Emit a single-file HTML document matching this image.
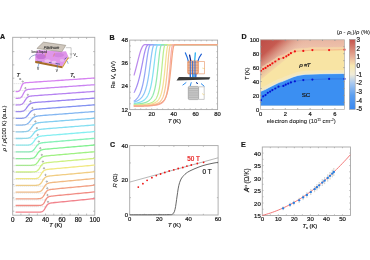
<!DOCTYPE html><html><head><meta charset="utf-8"><style>html,body{margin:0;padding:0;background:#fff;overflow:hidden}svg{display:block;will-change:transform}</style></head><body>
<svg width="370" height="260" viewBox="0 0 370 260" font-family='"Liberation Sans", sans-serif'>
<rect width="370" height="260" fill="#fff"/>
<text x="0" y="39.2" font-size="7.1" text-anchor="start" fill="#1a1a1a" stroke="#1a1a1a" stroke-width="0.22" font-weight="bold">A</text>
<rect x="12.7" y="37.3" width="82.1" height="177.9" fill="none" stroke="#a8a8a8" stroke-width="0.9"/>
<path d="M20.91 215.2v-1.6M20.91 37.3v1.6M29.12 215.2v-1.6M29.12 37.3v1.6M37.33 215.2v-1.6M37.33 37.3v1.6M45.54 215.2v-1.6M45.54 37.3v1.6M53.75 215.2v-1.6M53.75 37.3v1.6M61.96 215.2v-1.6M61.96 37.3v1.6M70.17 215.2v-1.6M70.17 37.3v1.6M78.38 215.2v-1.6M78.38 37.3v1.6M86.59 215.2v-1.6M86.59 37.3v1.6" stroke="#a8a8a8" stroke-width="0.8"/>
<path d="M12.7 51.6h1.6M94.8 51.6h-1.6M12.7 64.9h1.6M94.8 64.9h-1.6M12.7 78.2h1.6M94.8 78.2h-1.6M12.7 91.5h1.6M94.8 91.5h-1.6M12.7 104.8h1.6M94.8 104.8h-1.6M12.7 118.1h1.6M94.8 118.1h-1.6M12.7 131.4h1.6M94.8 131.4h-1.6M12.7 144.7h1.6M94.8 144.7h-1.6M12.7 158h1.6M94.8 158h-1.6M12.7 171.3h1.6M94.8 171.3h-1.6M12.7 184.6h1.6M94.8 184.6h-1.6M12.7 197.9h1.6M94.8 197.9h-1.6M12.7 211.2h1.6M94.8 211.2h-1.6" stroke="#a8a8a8" stroke-width="0.8"/>
<text x="12.7" y="221.6" font-size="6.3" text-anchor="middle" fill="#1a1a1a" stroke="#1a1a1a" stroke-width="0.22" >0</text>
<text x="29.12" y="221.6" font-size="6.3" text-anchor="middle" fill="#1a1a1a" stroke="#1a1a1a" stroke-width="0.22" >20</text>
<text x="45.54" y="221.6" font-size="6.3" text-anchor="middle" fill="#1a1a1a" stroke="#1a1a1a" stroke-width="0.22" >40</text>
<text x="61.96" y="221.6" font-size="6.3" text-anchor="middle" fill="#1a1a1a" stroke="#1a1a1a" stroke-width="0.22" >60</text>
<text x="78.38" y="221.6" font-size="6.3" text-anchor="middle" fill="#1a1a1a" stroke="#1a1a1a" stroke-width="0.22" >80</text>
<text x="94.8" y="221.6" font-size="6.3" text-anchor="middle" fill="#1a1a1a" stroke="#1a1a1a" stroke-width="0.22" >100</text>
<text x="55.8" y="227.4" font-size="5.8" text-anchor="middle" fill="#1a1a1a" stroke="#1a1a1a" stroke-width="0.22" ><tspan font-style="italic">T</tspan> (K)</text>
<text transform="translate(5.9,128.3) rotate(-90)" font-size="5.8" text-anchor="middle" fill="#1a1a1a" stroke="#1a1a1a" stroke-width="0.12"><tspan font-style="italic">ρ</tspan> / <tspan font-style="italic">ρ</tspan>(100 K) (a.u.)</text>
<path d="M13.7 83.6L22.7 83.6" stroke="#c4c4c4" stroke-width="0.6" stroke-dasharray="1 1" fill="none"/>
<path d="M15.6 91.59 L17.6 91.5 L18.1 91.42 L18.6 91.28 L19.1 91.02 L19.6 90.57 L20.1 89.87 L20.6 88.85 L21.1 87.58 L21.6 86.25 L22.1 85.09 L22.6 84.23 L23.1 83.65 L23.6 83.28 L24.1 83.06 L24.6 82.92 L25.1 82.82 L25.6 82.76 L26.1 82.71 L28.1 82.55 L30.1 82.41 L32.1 82.28 L34.1 82.14 L36.1 82 L38.1 81.87 L40.1 81.73 L42.1 81.59 L44.1 81.46 L46.1 81.32 L48.1 81.19 L50.1 81.05 L52.1 80.91 L54.1 80.78 L56.1 80.64 L58.1 80.5 L60.1 80.37 L62.1 80.23 L64.1 80.09 L66.1 79.96 L68.1 79.82 L70.1 79.68 L72.1 79.55 L74.1 79.41 L76.1 79.28 L78.1 79.14 L80.1 79 L82.1 78.87 L84.1 78.73 L86.1 78.59 L88.1 78.46 L90.1 78.32 L92.1 78.18 L94.1 78.05 L94.8 78" stroke="hsl(285,80%,73%)" stroke-width="1.3" fill="none"/>
<circle cx="22.7" cy="81.52" r="0.65" fill="none" stroke="#707070" stroke-width="0.55"/>
<path d="M13.7 90.44L25.4 90.44" stroke="#c4c4c4" stroke-width="0.6" stroke-dasharray="1 1" fill="none"/>
<path d="M15.6 98.29 L17.6 98.26 L18.1 98.24 L18.6 98.2 L19.1 98.14 L19.6 98.04 L20.1 97.89 L20.6 97.66 L21.1 97.32 L21.6 96.83 L22.1 96.15 L22.6 95.3 L23.1 94.31 L23.6 93.28 L24.1 92.32 L24.6 91.5 L25.1 90.87 L25.6 90.39 L26.1 90.06 L26.6 89.82 L27.1 89.66 L27.6 89.54 L28.1 89.45 L28.6 89.38 L29.1 89.33 L29.6 89.28 L31.6 89.12 L33.6 88.98 L35.6 88.84 L37.6 88.7 L39.6 88.56 L41.6 88.42 L43.6 88.28 L45.6 88.14 L47.6 88 L49.6 87.86 L51.6 87.72 L53.6 87.58 L55.6 87.44 L57.6 87.3 L59.6 87.16 L61.6 87.02 L63.6 86.88 L65.6 86.74 L67.6 86.6 L69.6 86.46 L71.6 86.32 L73.6 86.18 L75.6 86.04 L77.6 85.9 L79.6 85.76 L81.6 85.62 L83.6 85.48 L85.6 85.34 L87.6 85.2 L89.6 85.06 L91.6 84.92 L93.6 84.78 L94.8 84.7" stroke="hsl(278,80%,73%)" stroke-width="1.3" fill="none"/>
<circle cx="25.4" cy="88.15" r="0.65" fill="none" stroke="#707070" stroke-width="0.55"/>
<path d="M13.7 97.28L27.8 97.28" stroke="#c4c4c4" stroke-width="0.6" stroke-dasharray="1 1" fill="none"/>
<path d="M15.6 104.99 L17.6 104.96 L18.1 104.94 L18.6 104.92 L19.1 104.88 L19.6 104.83 L20.1 104.75 L20.6 104.65 L21.1 104.5 L21.6 104.29 L22.1 104.01 L22.6 103.64 L23.1 103.16 L23.6 102.57 L24.1 101.87 L24.6 101.1 L25.1 100.3 L25.6 99.52 L26.1 98.8 L26.6 98.18 L27.1 97.66 L27.6 97.25 L28.1 96.92 L28.6 96.67 L29.1 96.48 L29.6 96.34 L30.1 96.22 L30.6 96.13 L31.1 96.05 L31.6 95.99 L32.1 95.93 L32.6 95.88 L33.1 95.84 L35.1 95.68 L37.1 95.53 L39.1 95.39 L41.1 95.24 L43.1 95.1 L45.1 94.96 L47.1 94.81 L49.1 94.67 L51.1 94.53 L53.1 94.39 L55.1 94.24 L57.1 94.1 L59.1 93.96 L61.1 93.81 L63.1 93.67 L65.1 93.53 L67.1 93.38 L69.1 93.24 L71.1 93.1 L73.1 92.95 L75.1 92.81 L77.1 92.67 L79.1 92.52 L81.1 92.38 L83.1 92.24 L85.1 92.09 L87.1 91.95 L89.1 91.81 L91.1 91.66 L93.1 91.52 L94.8 91.4" stroke="hsl(268,80%,73%)" stroke-width="1.3" fill="none"/>
<circle cx="27.8" cy="94.8" r="0.65" fill="none" stroke="#707070" stroke-width="0.55"/>
<path d="M13.7 104.12L30.4 104.12" stroke="#c4c4c4" stroke-width="0.6" stroke-dasharray="1 1" fill="none"/>
<path d="M15.6 111.69 L17.6 111.68 L19.6 111.63 L20.1 111.6 L20.6 111.56 L21.1 111.51 L21.6 111.44 L22.1 111.35 L22.6 111.22 L23.1 111.05 L23.6 110.83 L24.1 110.54 L24.6 110.17 L25.1 109.72 L25.6 109.18 L26.1 108.56 L26.6 107.88 L27.1 107.17 L27.6 106.47 L28.1 105.81 L28.6 105.2 L29.1 104.68 L29.6 104.24 L30.1 103.88 L30.6 103.58 L31.1 103.35 L31.6 103.16 L32.1 103.01 L32.6 102.89 L33.1 102.79 L33.6 102.71 L34.1 102.64 L34.6 102.58 L35.1 102.52 L35.6 102.47 L36.1 102.43 L36.6 102.38 L38.6 102.22 L40.6 102.07 L42.6 101.93 L44.6 101.78 L46.6 101.63 L48.6 101.49 L50.6 101.34 L52.6 101.19 L54.6 101.05 L56.6 100.9 L58.6 100.75 L60.6 100.61 L62.6 100.46 L64.6 100.31 L66.6 100.17 L68.6 100.02 L70.6 99.87 L72.6 99.73 L74.6 99.58 L76.6 99.43 L78.6 99.29 L80.6 99.14 L82.6 98.99 L84.6 98.85 L86.6 98.7 L88.6 98.55 L90.6 98.41 L92.6 98.26 L94.6 98.11 L94.8 98.1" stroke="hsl(252,80%,73%)" stroke-width="1.3" fill="none"/>
<circle cx="30.4" cy="101.42" r="0.65" fill="none" stroke="#707070" stroke-width="0.55"/>
<path d="M13.7 110.96L32.4 110.96" stroke="#c4c4c4" stroke-width="0.6" stroke-dasharray="1 1" fill="none"/>
<path d="M15.6 118.4 L17.6 118.39 L19.6 118.37 L20.1 118.36 L20.6 118.34 L21.1 118.32 L21.6 118.29 L22.1 118.25 L22.6 118.2 L23.1 118.13 L23.6 118.04 L24.1 117.92 L24.6 117.76 L25.1 117.55 L25.6 117.28 L26.1 116.95 L26.6 116.54 L27.1 116.05 L27.6 115.49 L28.1 114.87 L28.6 114.21 L29.1 113.54 L29.6 112.89 L30.1 112.28 L30.6 111.73 L31.1 111.25 L31.6 110.85 L32.1 110.51 L32.6 110.24 L33.1 110.01 L33.6 109.83 L34.1 109.68 L34.6 109.56 L35.1 109.46 L35.6 109.38 L36.1 109.3 L36.6 109.24 L37.1 109.18 L37.6 109.13 L38.1 109.08 L38.6 109.04 L39.1 108.99 L41.1 108.83 L43.1 108.68 L45.1 108.53 L47.1 108.38 L49.1 108.23 L51.1 108.08 L53.1 107.93 L55.1 107.78 L57.1 107.63 L59.1 107.48 L61.1 107.33 L63.1 107.18 L65.1 107.03 L67.1 106.88 L69.1 106.73 L71.1 106.58 L73.1 106.43 L75.1 106.28 L77.1 106.13 L79.1 105.98 L81.1 105.83 L83.1 105.68 L85.1 105.53 L87.1 105.38 L89.1 105.23 L91.1 105.08 L93.1 104.93 L94.8 104.8" stroke="hsl(232,80%,73%)" stroke-width="1.3" fill="none"/>
<circle cx="32.4" cy="108.08" r="0.65" fill="none" stroke="#707070" stroke-width="0.55"/>
<path d="M13.7 117.79L34.5 117.79" stroke="#c4c4c4" stroke-width="0.6" stroke-dasharray="1 1" fill="none"/>
<path d="M15.6 125.1 L17.6 125.09 L19.6 125.08 L21.6 125.04 L22.1 125.03 L22.6 125 L23.1 124.97 L23.6 124.93 L24.1 124.87 L24.6 124.8 L25.1 124.71 L25.6 124.58 L26.1 124.43 L26.6 124.23 L27.1 123.98 L27.6 123.67 L28.1 123.3 L28.6 122.86 L29.1 122.36 L29.6 121.8 L30.1 121.2 L30.6 120.58 L31.1 119.96 L31.6 119.36 L32.1 118.81 L32.6 118.31 L33.1 117.87 L33.6 117.5 L34.1 117.18 L34.6 116.92 L35.1 116.7 L35.6 116.52 L36.1 116.37 L36.6 116.25 L37.1 116.14 L37.6 116.05 L38.1 115.97 L38.6 115.91 L39.1 115.84 L39.6 115.79 L40.1 115.74 L40.6 115.69 L41.1 115.64 L41.6 115.6 L43.6 115.43 L45.6 115.27 L47.6 115.12 L49.6 114.97 L51.6 114.81 L53.6 114.66 L55.6 114.51 L57.6 114.35 L59.6 114.2 L61.6 114.05 L63.6 113.89 L65.6 113.74 L67.6 113.59 L69.6 113.43 L71.6 113.28 L73.6 113.13 L75.6 112.97 L77.6 112.82 L79.6 112.67 L81.6 112.51 L83.6 112.36 L85.6 112.21 L87.6 112.05 L89.6 111.9 L91.6 111.75 L93.6 111.59 L94.8 111.5" stroke="hsl(212,80%,73%)" stroke-width="1.3" fill="none"/>
<circle cx="34.5" cy="114.72" r="0.65" fill="none" stroke="#707070" stroke-width="0.55"/>
<path d="M13.7 124.63L35.4 124.63" stroke="#c4c4c4" stroke-width="0.6" stroke-dasharray="1 1" fill="none"/>
<path d="M15.6 131.8 L17.6 131.8 L19.6 131.79 L21.6 131.78 L22.1 131.77 L22.6 131.76 L23.1 131.75 L23.6 131.73 L24.1 131.71 L24.6 131.67 L25.1 131.63 L25.6 131.57 L26.1 131.49 L26.6 131.39 L27.1 131.26 L27.6 131.08 L28.1 130.86 L28.6 130.58 L29.1 130.23 L29.6 129.81 L30.1 129.31 L30.6 128.75 L31.1 128.13 L31.6 127.48 L32.1 126.82 L32.6 126.18 L33.1 125.59 L33.6 125.06 L34.1 124.6 L34.6 124.21 L35.1 123.88 L35.6 123.61 L36.1 123.39 L36.6 123.21 L37.1 123.06 L37.6 122.94 L38.1 122.84 L38.6 122.75 L39.1 122.67 L39.6 122.61 L40.1 122.55 L40.6 122.49 L41.1 122.44 L41.6 122.39 L42.1 122.35 L44.1 122.18 L46.1 122.02 L48.1 121.86 L50.1 121.7 L52.1 121.55 L54.1 121.39 L56.1 121.23 L58.1 121.08 L60.1 120.92 L62.1 120.76 L64.1 120.61 L66.1 120.45 L68.1 120.29 L70.1 120.14 L72.1 119.98 L74.1 119.82 L76.1 119.67 L78.1 119.51 L80.1 119.35 L82.1 119.2 L84.1 119.04 L86.1 118.88 L88.1 118.73 L90.1 118.57 L92.1 118.41 L94.1 118.25 L94.8 118.2" stroke="hsl(200,80%,73%)" stroke-width="1.3" fill="none"/>
<circle cx="35.4" cy="121.45" r="0.65" fill="none" stroke="#707070" stroke-width="0.55"/>
<path d="M13.7 131.47L36.9 131.47" stroke="#c4c4c4" stroke-width="0.6" stroke-dasharray="1 1" fill="none"/>
<path d="M15.6 138.5 L17.6 138.5 L19.6 138.5 L21.6 138.49 L23.6 138.47 L24.1 138.46 L24.6 138.45 L25.1 138.43 L25.6 138.41 L26.1 138.37 L26.6 138.33 L27.1 138.27 L27.6 138.19 L28.1 138.09 L28.6 137.96 L29.1 137.78 L29.6 137.56 L30.1 137.28 L30.6 136.93 L31.1 136.5 L31.6 136.01 L32.1 135.44 L32.6 134.82 L33.1 134.17 L33.6 133.51 L34.1 132.87 L34.6 132.28 L35.1 131.75 L35.6 131.29 L36.1 130.89 L36.6 130.56 L37.1 130.29 L37.6 130.07 L38.1 129.89 L38.6 129.74 L39.1 129.62 L39.6 129.51 L40.1 129.42 L40.6 129.35 L41.1 129.28 L41.6 129.22 L42.1 129.16 L42.6 129.11 L43.1 129.06 L43.6 129.02 L45.6 128.84 L47.6 128.68 L49.6 128.52 L51.6 128.36 L53.6 128.2 L55.6 128.04 L57.6 127.88 L59.6 127.72 L61.6 127.56 L63.6 127.4 L65.6 127.24 L67.6 127.08 L69.6 126.92 L71.6 126.76 L73.6 126.6 L75.6 126.44 L77.6 126.28 L79.6 126.12 L81.6 125.96 L83.6 125.8 L85.6 125.64 L87.6 125.48 L89.6 125.32 L91.6 125.16 L93.6 125 L94.8 124.9" stroke="hsl(190,80%,73%)" stroke-width="1.3" fill="none"/>
<circle cx="36.9" cy="128.13" r="0.65" fill="none" stroke="#707070" stroke-width="0.55"/>
<path d="M13.7 138.31L37.7 138.31" stroke="#c4c4c4" stroke-width="0.6" stroke-dasharray="1 1" fill="none"/>
<path d="M15.6 145.2 L17.6 145.2 L19.6 145.2 L21.6 145.2 L23.6 145.19 L25.6 145.17 L26.1 145.16 L26.6 145.14 L27.1 145.12 L27.6 145.09 L28.1 145.05 L28.6 144.99 L29.1 144.91 L29.6 144.8 L30.1 144.66 L30.6 144.47 L31.1 144.22 L31.6 143.9 L32.1 143.5 L32.6 143.01 L33.1 142.43 L33.6 141.79 L34.1 141.09 L34.6 140.37 L35.1 139.68 L35.6 139.03 L36.1 138.46 L36.6 137.96 L37.1 137.54 L37.6 137.21 L38.1 136.93 L38.6 136.71 L39.1 136.54 L39.6 136.4 L40.1 136.28 L40.6 136.18 L41.1 136.1 L41.6 136.03 L42.1 135.97 L42.6 135.91 L43.1 135.86 L43.6 135.81 L45.6 135.63 L47.6 135.46 L49.6 135.3 L51.6 135.13 L53.6 134.97 L55.6 134.8 L57.6 134.64 L59.6 134.48 L61.6 134.31 L63.6 134.15 L65.6 133.99 L67.6 133.82 L69.6 133.66 L71.6 133.5 L73.6 133.33 L75.6 133.17 L77.6 133.01 L79.6 132.84 L81.6 132.68 L83.6 132.52 L85.6 132.35 L87.6 132.19 L89.6 132.03 L91.6 131.86 L93.6 131.7 L94.8 131.6" stroke="hsl(182,80%,73%)" stroke-width="1.3" fill="none"/>
<circle cx="37.7" cy="134.87" r="0.65" fill="none" stroke="#707070" stroke-width="0.55"/>
<path d="M13.7 145.15L38.8 145.15" stroke="#c4c4c4" stroke-width="0.6" stroke-dasharray="1 1" fill="none"/>
<path d="M15.6 151.9 L17.6 151.9 L19.6 151.9 L21.6 151.9 L23.6 151.9 L25.6 151.89 L27.6 151.86 L28.1 151.85 L28.6 151.83 L29.1 151.8 L29.6 151.76 L30.1 151.7 L30.6 151.62 L31.1 151.51 L31.6 151.36 L32.1 151.16 L32.6 150.89 L33.1 150.54 L33.6 150.1 L34.1 149.57 L34.6 148.94 L35.1 148.24 L35.6 147.5 L36.1 146.75 L36.6 146.04 L37.1 145.4 L37.6 144.84 L38.1 144.38 L38.6 144 L39.1 143.69 L39.6 143.45 L40.1 143.26 L40.6 143.11 L41.1 142.99 L41.6 142.89 L42.1 142.81 L42.6 142.73 L43.1 142.67 L43.6 142.61 L44.1 142.56 L44.6 142.51 L46.6 142.33 L48.6 142.16 L50.6 141.99 L52.6 141.82 L54.6 141.65 L56.6 141.49 L58.6 141.32 L60.6 141.15 L62.6 140.99 L64.6 140.82 L66.6 140.65 L68.6 140.49 L70.6 140.32 L72.6 140.15 L74.6 139.99 L76.6 139.82 L78.6 139.65 L80.6 139.48 L82.6 139.32 L84.6 139.15 L86.6 138.98 L88.6 138.82 L90.6 138.65 L92.6 138.48 L94.6 138.32 L94.8 138.3" stroke="hsl(148,80%,73%)" stroke-width="1.3" fill="none"/>
<circle cx="38.8" cy="141.57" r="0.65" fill="none" stroke="#707070" stroke-width="0.55"/>
<path d="M13.7 151.99L40.3 151.99" stroke="#c4c4c4" stroke-width="0.6" stroke-dasharray="1 1" fill="none"/>
<path d="M15.6 158.6 L17.6 158.6 L19.6 158.6 L21.6 158.6 L23.6 158.6 L25.6 158.6 L27.6 158.59 L29.6 158.55 L30.1 158.53 L30.6 158.5 L31.1 158.46 L31.6 158.4 L32.1 158.32 L32.6 158.21 L33.1 158.06 L33.6 157.86 L34.1 157.59 L34.6 157.24 L35.1 156.8 L35.6 156.26 L36.1 155.63 L36.6 154.93 L37.1 154.18 L37.6 153.43 L38.1 152.72 L38.6 152.07 L39.1 151.52 L39.6 151.05 L40.1 150.67 L40.6 150.36 L41.1 150.12 L41.6 149.93 L42.1 149.78 L42.6 149.65 L43.1 149.55 L43.6 149.47 L44.1 149.39 L44.6 149.33 L45.1 149.27 L45.6 149.22 L46.1 149.17 L48.1 148.98 L50.1 148.81 L52.1 148.64 L54.1 148.46 L56.1 148.29 L58.1 148.12 L60.1 147.95 L62.1 147.78 L64.1 147.61 L66.1 147.44 L68.1 147.27 L70.1 147.1 L72.1 146.93 L74.1 146.76 L76.1 146.59 L78.1 146.42 L80.1 146.25 L82.1 146.08 L84.1 145.91 L86.1 145.74 L88.1 145.57 L90.1 145.4 L92.1 145.23 L94.1 145.06 L94.8 145" stroke="hsl(128,80%,73%)" stroke-width="1.3" fill="none"/>
<circle cx="40.3" cy="148.24" r="0.65" fill="none" stroke="#707070" stroke-width="0.55"/>
<path d="M13.7 158.83L41.8 158.83" stroke="#c4c4c4" stroke-width="0.6" stroke-dasharray="1 1" fill="none"/>
<path d="M15.6 165.3 L17.6 165.3 L19.6 165.3 L21.6 165.3 L23.6 165.3 L25.6 165.3 L27.6 165.3 L29.6 165.28 L31.6 165.23 L32.1 165.2 L32.6 165.16 L33.1 165.1 L33.6 165.02 L34.1 164.91 L34.6 164.76 L35.1 164.55 L35.6 164.28 L36.1 163.94 L36.6 163.49 L37.1 162.95 L37.6 162.32 L38.1 161.62 L38.6 160.87 L39.1 160.11 L39.6 159.4 L40.1 158.75 L40.6 158.19 L41.1 157.72 L41.6 157.33 L42.1 157.03 L42.6 156.78 L43.1 156.59 L43.6 156.44 L44.1 156.31 L44.6 156.21 L45.1 156.12 L45.6 156.05 L46.1 155.98 L46.6 155.93 L47.1 155.87 L47.6 155.82 L49.6 155.63 L51.6 155.45 L53.6 155.28 L55.6 155.1 L57.6 154.93 L59.6 154.76 L61.6 154.58 L63.6 154.41 L65.6 154.24 L67.6 154.06 L69.6 153.89 L71.6 153.71 L73.6 153.54 L75.6 153.37 L77.6 153.19 L79.6 153.02 L81.6 152.85 L83.6 152.67 L85.6 152.5 L87.6 152.33 L89.6 152.15 L91.6 151.98 L93.6 151.8 L94.8 151.7" stroke="hsl(105,80%,73%)" stroke-width="1.3" fill="none"/>
<circle cx="41.8" cy="154.9" r="0.65" fill="none" stroke="#707070" stroke-width="0.55"/>
<path d="M13.7 165.67L42.9 165.67" stroke="#c4c4c4" stroke-width="0.6" stroke-dasharray="1 1" fill="none"/>
<path d="M15.6 172 L17.6 172 L19.6 172 L21.6 172 L23.6 172 L25.6 172 L27.6 172 L29.6 171.99 L31.6 171.98 L32.1 171.97 L32.6 171.95 L33.1 171.93 L33.6 171.91 L34.1 171.87 L34.6 171.81 L35.1 171.73 L35.6 171.61 L36.1 171.46 L36.6 171.24 L37.1 170.95 L37.6 170.57 L38.1 170.08 L38.6 169.49 L39.1 168.8 L39.6 168.03 L40.1 167.23 L40.6 166.45 L41.1 165.73 L41.6 165.09 L42.1 164.56 L42.6 164.13 L43.1 163.79 L43.6 163.52 L44.1 163.31 L44.6 163.14 L45.1 163.01 L45.6 162.91 L46.1 162.82 L46.6 162.74 L47.1 162.68 L47.6 162.62 L48.1 162.56 L48.6 162.51 L50.6 162.32 L52.6 162.14 L54.6 161.96 L56.6 161.78 L58.6 161.6 L60.6 161.43 L62.6 161.25 L64.6 161.07 L66.6 160.9 L68.6 160.72 L70.6 160.54 L72.6 160.36 L74.6 160.19 L76.6 160.01 L78.6 159.83 L80.6 159.66 L82.6 159.48 L84.6 159.3 L86.6 159.13 L88.6 158.95 L90.6 158.77 L92.6 158.59 L94.6 158.42 L94.8 158.4" stroke="hsl(80,80%,73%)" stroke-width="1.3" fill="none"/>
<circle cx="42.9" cy="161.59" r="0.65" fill="none" stroke="#707070" stroke-width="0.55"/>
<path d="M13.7 172.51L44 172.51" stroke="#c4c4c4" stroke-width="0.6" stroke-dasharray="1 1" fill="none"/>
<path d="M15.6 178.7 L17.6 178.7 L19.6 178.7 L21.6 178.7 L23.6 178.7 L25.6 178.7 L27.6 178.7 L29.6 178.7 L31.6 178.69 L33.6 178.67 L34.1 178.66 L34.6 178.64 L35.1 178.61 L35.6 178.56 L36.1 178.5 L36.6 178.42 L37.1 178.29 L37.6 178.12 L38.1 177.88 L38.6 177.55 L39.1 177.12 L39.6 176.57 L40.1 175.91 L40.6 175.14 L41.1 174.32 L41.6 173.49 L42.1 172.71 L42.6 172.01 L43.1 171.41 L43.6 170.93 L44.1 170.55 L44.6 170.26 L45.1 170.03 L45.6 169.85 L46.1 169.71 L46.6 169.6 L47.1 169.51 L47.6 169.43 L48.1 169.36 L48.6 169.3 L49.1 169.25 L49.6 169.19 L51.6 169 L53.6 168.82 L55.6 168.64 L57.6 168.46 L59.6 168.28 L61.6 168.09 L63.6 167.91 L65.6 167.73 L67.6 167.55 L69.6 167.37 L71.6 167.19 L73.6 167.01 L75.6 166.83 L77.6 166.65 L79.6 166.47 L81.6 166.29 L83.6 166.11 L85.6 165.93 L87.6 165.75 L89.6 165.57 L91.6 165.39 L93.6 165.21 L94.8 165.1" stroke="hsl(55,80%,73%)" stroke-width="1.3" fill="none"/>
<circle cx="44" cy="168.28" r="0.65" fill="none" stroke="#707070" stroke-width="0.55"/>
<path d="M13.7 179.34L45.5 179.34" stroke="#c4c4c4" stroke-width="0.6" stroke-dasharray="1 1" fill="none"/>
<path d="M15.6 185.4 L17.6 185.4 L19.6 185.4 L21.6 185.4 L23.6 185.4 L25.6 185.4 L27.6 185.4 L29.6 185.4 L31.6 185.4 L33.6 185.39 L35.6 185.34 L36.1 185.31 L36.6 185.27 L37.1 185.22 L37.6 185.14 L38.1 185.04 L38.6 184.89 L39.1 184.69 L39.6 184.41 L40.1 184.05 L40.6 183.58 L41.1 183 L41.6 182.32 L42.1 181.56 L42.6 180.76 L43.1 179.97 L43.6 179.23 L44.1 178.57 L44.6 178.01 L45.1 177.56 L45.6 177.19 L46.1 176.91 L46.6 176.68 L47.1 176.51 L47.6 176.37 L48.1 176.25 L48.6 176.16 L49.1 176.08 L49.6 176.01 L50.1 175.95 L50.6 175.89 L51.1 175.84 L53.1 175.64 L55.1 175.45 L57.1 175.26 L59.1 175.08 L61.1 174.9 L63.1 174.71 L65.1 174.53 L67.1 174.35 L69.1 174.16 L71.1 173.98 L73.1 173.79 L75.1 173.61 L77.1 173.43 L79.1 173.24 L81.1 173.06 L83.1 172.88 L85.1 172.69 L87.1 172.51 L89.1 172.32 L91.1 172.14 L93.1 171.96 L94.8 171.8" stroke="hsl(40,80%,73%)" stroke-width="1.3" fill="none"/>
<circle cx="45.5" cy="174.93" r="0.65" fill="none" stroke="#707070" stroke-width="0.55"/>
<path d="M13.7 186.18L46.8 186.18" stroke="#c4c4c4" stroke-width="0.6" stroke-dasharray="1 1" fill="none"/>
<path d="M15.6 192.1 L17.6 192.1 L19.6 192.1 L21.6 192.1 L23.6 192.1 L25.6 192.1 L27.6 192.1 L29.6 192.1 L31.6 192.1 L33.6 192.09 L35.6 192.07 L36.1 192.06 L36.6 192.04 L37.1 192.02 L37.6 191.99 L38.1 191.94 L38.6 191.87 L39.1 191.78 L39.6 191.65 L40.1 191.47 L40.6 191.23 L41.1 190.91 L41.6 190.5 L42.1 189.97 L42.6 189.35 L43.1 188.63 L43.6 187.85 L44.1 187.05 L44.6 186.29 L45.1 185.59 L45.6 184.98 L46.1 184.47 L46.6 184.06 L47.1 183.73 L47.6 183.47 L48.1 183.27 L48.6 183.11 L49.1 182.98 L49.6 182.88 L50.1 182.79 L50.6 182.71 L51.1 182.64 L51.6 182.58 L52.1 182.52 L52.6 182.47 L54.6 182.27 L56.6 182.08 L58.6 181.89 L60.6 181.7 L62.6 181.51 L64.6 181.33 L66.6 181.14 L68.6 180.95 L70.6 180.76 L72.6 180.58 L74.6 180.39 L76.6 180.2 L78.6 180.02 L80.6 179.83 L82.6 179.64 L84.6 179.45 L86.6 179.27 L88.6 179.08 L90.6 178.89 L92.6 178.71 L94.6 178.52 L94.8 178.5" stroke="hsl(30,80%,73%)" stroke-width="1.3" fill="none"/>
<circle cx="46.8" cy="181.59" r="0.65" fill="none" stroke="#707070" stroke-width="0.55"/>
<path d="M13.7 193.02L47.3 193.02" stroke="#c4c4c4" stroke-width="0.6" stroke-dasharray="1 1" fill="none"/>
<path d="M15.6 198.8 L17.6 198.8 L19.6 198.8 L21.6 198.8 L23.6 198.8 L25.6 198.8 L27.6 198.8 L29.6 198.8 L31.6 198.8 L33.6 198.8 L35.6 198.79 L37.6 198.76 L38.1 198.74 L38.6 198.71 L39.1 198.67 L39.6 198.61 L40.1 198.52 L40.6 198.39 L41.1 198.21 L41.6 197.96 L42.1 197.62 L42.6 197.16 L43.1 196.59 L43.6 195.88 L44.1 195.08 L44.6 194.22 L45.1 193.37 L45.6 192.57 L46.1 191.88 L46.6 191.3 L47.1 190.84 L47.6 190.47 L48.1 190.2 L48.6 189.99 L49.1 189.82 L49.6 189.69 L50.1 189.59 L50.6 189.5 L51.1 189.42 L51.6 189.36 L52.1 189.3 L52.6 189.24 L54.6 189.03 L56.6 188.84 L58.6 188.65 L60.6 188.46 L62.6 188.27 L64.6 188.08 L66.6 187.89 L68.6 187.7 L70.6 187.51 L72.6 187.32 L74.6 187.12 L76.6 186.93 L78.6 186.74 L80.6 186.55 L82.6 186.36 L84.6 186.17 L86.6 185.98 L88.6 185.79 L90.6 185.6 L92.6 185.41 L94.6 185.22 L94.8 185.2" stroke="hsl(15,80%,73%)" stroke-width="1.3" fill="none"/>
<circle cx="47.3" cy="188.33" r="0.65" fill="none" stroke="#707070" stroke-width="0.55"/>
<path d="M13.7 199.86L47.5 199.86" stroke="#c4c4c4" stroke-width="0.6" stroke-dasharray="1 1" fill="none"/>
<path d="M15.6 205.5 L17.6 205.5 L19.6 205.5 L21.6 205.5 L23.6 205.5 L25.6 205.5 L27.6 205.5 L29.6 205.5 L31.6 205.5 L33.6 205.5 L35.6 205.5 L37.6 205.49 L39.6 205.42 L40.1 205.38 L40.6 205.32 L41.1 205.22 L41.6 205.08 L42.1 204.86 L42.6 204.56 L43.1 204.13 L43.6 203.56 L44.1 202.83 L44.6 201.96 L45.1 201.02 L45.6 200.07 L46.1 199.2 L46.6 198.45 L47.1 197.86 L47.6 197.4 L48.1 197.06 L48.6 196.8 L49.1 196.61 L49.6 196.47 L50.1 196.36 L50.6 196.27 L51.1 196.19 L51.6 196.12 L52.1 196.06 L54.1 195.85 L56.1 195.65 L58.1 195.46 L60.1 195.26 L62.1 195.07 L64.1 194.88 L66.1 194.68 L68.1 194.49 L70.1 194.3 L72.1 194.1 L74.1 193.91 L76.1 193.71 L78.1 193.52 L80.1 193.33 L82.1 193.13 L84.1 192.94 L86.1 192.74 L88.1 192.55 L90.1 192.36 L92.1 192.16 L94.1 191.97 L94.8 191.9" stroke="hsl(5,80%,73%)" stroke-width="1.3" fill="none"/>
<circle cx="47.5" cy="195.09" r="0.65" fill="none" stroke="#707070" stroke-width="0.55"/>
<path d="M13.7 206.7L48 206.7" stroke="#c4c4c4" stroke-width="0.6" stroke-dasharray="1 1" fill="none"/>
<path d="M15.6 212.2 L17.6 212.2 L19.6 212.2 L21.6 212.2 L23.6 212.2 L25.6 212.2 L27.6 212.2 L29.6 212.2 L31.6 212.2 L33.6 212.2 L35.6 212.2 L37.6 212.18 L39.6 212.11 L40.1 212.07 L40.6 212 L41.1 211.91 L41.6 211.77 L42.1 211.58 L42.6 211.3 L43.1 210.92 L43.6 210.43 L44.1 209.79 L44.6 209.04 L45.1 208.19 L45.6 207.31 L46.1 206.46 L46.6 205.69 L47.1 205.04 L47.6 204.51 L48.1 204.1 L48.6 203.78 L49.1 203.54 L49.6 203.36 L50.1 203.21 L50.6 203.1 L51.1 203.01 L51.6 202.93 L52.1 202.86 L52.6 202.79 L53.1 202.73 L55.1 202.52 L57.1 202.32 L59.1 202.12 L61.1 201.92 L63.1 201.73 L65.1 201.53 L67.1 201.33 L69.1 201.14 L71.1 200.94 L73.1 200.74 L75.1 200.54 L77.1 200.35 L79.1 200.15 L81.1 199.95 L83.1 199.75 L85.1 199.56 L87.1 199.36 L89.1 199.16 L91.1 198.97 L93.1 198.77 L94.8 198.6" stroke="hsl(355,80%,73%)" stroke-width="1.3" fill="none"/>
<circle cx="48" cy="201.82" r="0.65" fill="none" stroke="#707070" stroke-width="0.55"/>
<text x="16.5" y="77.2" font-size="5.6" text-anchor="start" fill="#1a1a1a" stroke="#1a1a1a" stroke-width="0.22" ><tspan font-style="italic">T</tspan></text>
<text x="19.6" y="79.6" font-size="3.4" text-anchor="start" fill="#1a1a1a" stroke="#1a1a1a" stroke-width="0.08" >c</text>
<text x="70.2" y="76.8" font-size="5.4" text-anchor="start" fill="#1a1a1a" stroke="#1a1a1a" stroke-width="0.22" ><tspan font-style="italic">T</tspan></text>
<text x="73.2" y="78.4" font-size="3.4" text-anchor="start" fill="#1a1a1a" stroke="#1a1a1a" stroke-width="0.08" >s</text>
<path d="M35.2 55 L37.5 50 L62 51.6 L66 51.2 L68.3 56.6 L62.4 66.3 L35.2 60.8 Z" fill="#e096ea"/>
<ellipse cx="41" cy="56.5" rx="4.8" ry="2.6" fill="#bd68d0" opacity="0.75"/>
<ellipse cx="58.5" cy="55" rx="5.5" ry="2.2" fill="#c87ad8" opacity="0.6"/>
<ellipse cx="47.5" cy="60.8" rx="3" ry="1.5" fill="#f4d8f4" opacity="0.6"/>
<ellipse cx="54" cy="62" rx="2.5" ry="1.3" fill="#f0e0f6" opacity="0.6"/>
<ellipse cx="62" cy="60.5" rx="2.2" ry="1.4" fill="#eccaf2" opacity="0.6"/>
<path d="M37 61.3 L42 62 M55.5 63.3 L60 64.2 M64.5 59.2 L66.5 57.6 M49 62.4 L51.5 62.9" stroke="#56679a" stroke-width="0.9"/>
<path d="M35.2 60.8 L62.4 66.3 L62.4 68.2 L35.2 62.9 Z" fill="#a66c28"/>
<path d="M62.4 66.3 L68.3 56.6 L68.6 58.3 L62.4 68.2 Z" fill="#cf9c3c"/>
<path d="M43.4 42.1 L65.8 45.3 L61.8 51.8 L36.9 48.5 Z" fill="#cfc7bd" stroke="#857c70" stroke-width="0.5"/>
<text transform="translate(51.3,48.7) skewX(-10)" font-size="4.0" text-anchor="middle" fill="#222" stroke="#222" stroke-width="0.1">Platinum</text>
<path d="M46.5 52.2 L45 56.2 M54.8 53.2 L53.2 56.8" stroke="#e0904c" stroke-width="0.5"/>
<text x="31.4" y="52.6" font-size="3.3" text-anchor="start" fill="#2f2f2f" stroke="#2f2f2f" stroke-width="0.08" >Ionic liquid</text>
<path d="M29.3 59.5 Q30.5 55.2 37.3 54.6" stroke="#4a6aa0" stroke-width="0.55" fill="none"/>
<path d="M39 63.2 L37.8 67.4 M57.3 64.6 L57.3 68.4 M67.2 61 L68.2 63.8" stroke="#4a7ac0" stroke-width="0.6" fill="none"/>
<text x="37" y="70" font-size="3.2" text-anchor="start" fill="#2a2a2a" stroke="#2a2a2a" stroke-width="0.08" >V</text>
<text x="55.8" y="72" font-size="3.2" text-anchor="start" fill="#2a2a2a" stroke="#2a2a2a" stroke-width="0.08" >V</text>
<path d="M65.8 47.7 H71.1 V58 H68.2 M69.6 53.8 H72.6 M70.2 54.8 H72" stroke="#8a8a8a" stroke-width="0.45" fill="none"/>
<text x="73.6" y="56.4" font-size="3.6" text-anchor="start" fill="#2a2a2a" stroke="#2a2a2a" stroke-width="0.08" >V</text>
<text x="76" y="57.4" font-size="2.2" text-anchor="start" fill="#2a2a2a" stroke="#2a2a2a" stroke-width="0.08" >G</text>
<text x="109.5" y="39.6" font-size="7.1" text-anchor="start" fill="#1a1a1a" stroke="#1a1a1a" stroke-width="0.22" font-weight="bold">B</text>
<rect x="129.7" y="40.1" width="87.9" height="69.5" fill="none" stroke="#a8a8a8" stroke-width="0.9"/>
<path d="M135.19 109.6v-1.2M135.19 40.1v1.2M140.69 109.6v-1.2M140.69 40.1v1.2M146.18 109.6v-1.2M146.18 40.1v1.2M151.67 109.6v-1.2M151.67 40.1v1.2M157.17 109.6v-1.2M157.17 40.1v1.2M162.66 109.6v-1.2M162.66 40.1v1.2M168.16 109.6v-1.2M168.16 40.1v1.2M173.65 109.6v-1.2M173.65 40.1v1.2M179.14 109.6v-1.2M179.14 40.1v1.2M184.64 109.6v-1.2M184.64 40.1v1.2M190.13 109.6v-1.2M190.13 40.1v1.2M195.62 109.6v-1.2M195.62 40.1v1.2M201.12 109.6v-1.2M201.12 40.1v1.2M206.61 109.6v-1.2M206.61 40.1v1.2M212.11 109.6v-1.2M212.11 40.1v1.2" stroke="#a8a8a8" stroke-width="0.8"/>
<path d="M129.7 103.81h1.2M217.6 103.81h-1.2M129.7 98.02h1.2M217.6 98.02h-1.2M129.7 92.22h1.2M217.6 92.22h-1.2M129.7 86.43h1.2M217.6 86.43h-1.2M129.7 80.64h1.2M217.6 80.64h-1.2M129.7 74.85h1.2M217.6 74.85h-1.2M129.7 69.06h1.2M217.6 69.06h-1.2M129.7 63.27h1.2M217.6 63.27h-1.2M129.7 57.47h1.2M217.6 57.47h-1.2M129.7 51.68h1.2M217.6 51.68h-1.2M129.7 45.89h1.2M217.6 45.89h-1.2" stroke="#a8a8a8" stroke-width="0.8"/>
<text x="129.7" y="115.6" font-size="5.8" text-anchor="middle" fill="#1a1a1a" stroke="#1a1a1a" stroke-width="0.22" >0</text>
<text x="151.67" y="115.6" font-size="5.8" text-anchor="middle" fill="#1a1a1a" stroke="#1a1a1a" stroke-width="0.22" >20</text>
<text x="173.65" y="115.6" font-size="5.8" text-anchor="middle" fill="#1a1a1a" stroke="#1a1a1a" stroke-width="0.22" >40</text>
<text x="195.62" y="115.6" font-size="5.8" text-anchor="middle" fill="#1a1a1a" stroke="#1a1a1a" stroke-width="0.22" >60</text>
<text x="217.6" y="115.6" font-size="5.8" text-anchor="middle" fill="#1a1a1a" stroke="#1a1a1a" stroke-width="0.22" >80</text>
<text x="128" y="111.6" font-size="5.8" text-anchor="end" fill="#1a1a1a" stroke="#1a1a1a" stroke-width="0.22" >12</text>
<text x="128" y="88.43" font-size="5.8" text-anchor="end" fill="#1a1a1a" stroke="#1a1a1a" stroke-width="0.22" >24</text>
<text x="128" y="65.27" font-size="5.8" text-anchor="end" fill="#1a1a1a" stroke="#1a1a1a" stroke-width="0.22" >36</text>
<text x="128" y="42.1" font-size="5.8" text-anchor="end" fill="#1a1a1a" stroke="#1a1a1a" stroke-width="0.22" >48</text>
<text x="174.4" y="123.2" font-size="5.8" text-anchor="middle" fill="#1a1a1a" stroke="#1a1a1a" stroke-width="0.22" ><tspan font-style="italic">T</tspan> (K)</text>
<text transform="translate(115.3,74.8) rotate(-90)" font-size="5.8" text-anchor="middle" fill="#1a1a1a" stroke="#1a1a1a" stroke-width="0.12">Re <tspan font-style="italic">V</tspan><tspan font-size="4" dy="1">s</tspan><tspan dy="-1"> (μV)</tspan></text>
<path d="M133.77 75.38 L133.99 74.95 L134.2 74.42 L134.42 73.81 L134.64 73.12 L134.86 72.38 L135.08 71.61 L135.3 70.81 L135.52 69.99 L135.74 69.16 L135.96 68.32 L136.18 67.48 L136.4 66.62 L136.62 65.76 L136.84 64.89 L137.06 64.02 L137.28 63.15 L137.5 62.28 L137.72 61.4 L137.94 60.54 L138.16 59.67 L138.38 58.81 L138.6 57.96 L138.82 57.12 L139.04 56.3 L139.26 55.49 L139.48 54.69 L139.7 53.92 L139.92 53.17 L140.14 52.44 L140.36 51.73 L140.58 51.06 L140.8 50.41 L141.02 49.79 L141.24 49.2 L141.46 48.65 L141.68 48.14 L141.9 47.66 L142.12 47.21 L142.34 46.8 L142.56 46.43 L142.78 46.1 L142.99 45.81 L143.21 45.55 L143.43 45.32 L143.65 45.14 L143.87 44.98 L144.09 44.85 L144.31 44.76 L144.53 44.68 L144.75 44.63 L144.97 44.59 L145.19 44.57 L145.41 44.56 L145.63 44.55 L145.85 44.54 L146.07 44.54 L146.29 44.54 L146.51 44.54 L146.73 44.54 L146.95 44.54 L147.17 44.54 L147.39 44.54 L147.61 44.54 L147.83 44.54 L217.6 44.54" stroke="#bc8aec" stroke-width="1.25" fill="none"/>
<path d="M133.77 92.63 L133.99 92.39 L134.2 92.1 L134.42 91.76 L134.64 91.37 L134.86 90.95 L135.08 90.51 L135.3 90.03 L135.52 89.54 L135.74 89.03 L135.96 88.5 L136.18 87.95 L136.4 87.38 L136.62 86.79 L136.84 86.19 L137.06 85.56 L137.28 84.9 L137.5 84.23 L137.72 83.53 L137.94 82.81 L138.16 82.07 L138.38 81.3 L138.6 80.51 L138.82 79.69 L139.04 78.85 L139.26 77.98 L139.48 77.09 L139.7 76.17 L139.92 75.24 L140.14 74.27 L140.36 73.29 L140.58 72.28 L140.8 71.26 L141.02 70.21 L141.24 69.15 L141.46 68.07 L141.68 66.98 L141.9 65.87 L142.12 64.76 L142.34 63.64 L142.56 62.53 L142.78 61.41 L142.99 60.3 L143.21 59.19 L143.43 58.1 L143.65 57.03 L143.87 55.98 L144.09 54.96 L144.31 53.96 L144.53 53 L144.75 52.09 L144.97 51.21 L145.19 50.38 L145.41 49.61 L145.63 48.88 L145.85 48.22 L146.07 47.61 L146.29 47.06 L146.51 46.57 L146.73 46.15 L146.95 45.78 L147.17 45.47 L147.39 45.22 L147.61 45.01 L147.83 44.86 L148.05 44.75 L148.27 44.67 L148.49 44.61 L148.71 44.58 L148.93 44.56 L149.15 44.55 L149.37 44.54 L149.59 44.54 L149.81 44.54 L150.03 44.54 L150.25 44.54 L150.47 44.54 L150.69 44.54 L150.91 44.54 L151.13 44.54 L217.6 44.54" stroke="#a68cf2" stroke-width="1.25" fill="none"/>
<path d="M133.77 101.17 L133.99 101.09 L134.2 100.98 L134.42 100.85 L134.64 100.7 L134.86 100.55 L135.08 100.38 L135.3 100.2 L135.52 100.01 L135.74 99.81 L135.96 99.6 L136.18 99.38 L136.4 99.16 L136.62 98.92 L136.84 98.68 L137.06 98.42 L137.28 98.15 L137.5 97.86 L137.72 97.57 L137.94 97.25 L138.16 96.93 L138.38 96.59 L138.6 96.23 L138.82 95.85 L139.04 95.45 L139.26 95.04 L139.48 94.6 L139.7 94.14 L139.92 93.66 L140.14 93.15 L140.36 92.62 L140.58 92.06 L140.8 91.47 L141.02 90.85 L141.24 90.19 L141.46 89.51 L141.68 88.78 L141.9 88.02 L142.12 87.22 L142.34 86.38 L142.56 85.5 L142.78 84.57 L142.99 83.6 L143.21 82.58 L143.43 81.51 L143.65 80.4 L143.87 79.23 L144.09 78.02 L144.31 76.75 L144.53 75.44 L144.75 74.08 L144.97 72.67 L145.19 71.23 L145.41 69.75 L145.63 68.23 L145.85 66.69 L146.07 65.13 L146.29 63.55 L146.51 61.98 L146.73 60.41 L146.95 58.86 L147.17 57.35 L147.39 55.87 L147.61 54.45 L147.83 53.1 L148.05 51.83 L148.27 50.65 L148.49 49.57 L148.71 48.6 L148.93 47.74 L149.15 46.99 L149.37 46.37 L149.59 45.85 L149.81 45.45 L150.03 45.14 L150.25 44.92 L150.47 44.76 L150.69 44.66 L150.91 44.6 L151.13 44.57 L151.35 44.55 L151.57 44.54 L151.78 44.54 L152 44.54 L152.22 44.54 L152.44 44.54 L152.66 44.54 L152.88 44.54 L153.1 44.54 L153.32 44.54 L217.6 44.54" stroke="#96a6f6" stroke-width="1.25" fill="none"/>
<path d="M133.77 102.08 L133.99 102.04 L134.2 102 L134.42 101.94 L134.64 101.88 L134.86 101.81 L135.08 101.74 L135.3 101.67 L135.52 101.59 L135.74 101.51 L135.96 101.42 L136.18 101.34 L136.4 101.24 L136.62 101.15 L136.84 101.05 L137.06 100.95 L137.28 100.84 L137.5 100.73 L137.72 100.61 L137.94 100.49 L138.16 100.37 L138.38 100.24 L138.6 100.1 L138.82 99.96 L139.04 99.81 L139.26 99.65 L139.48 99.49 L139.7 99.32 L139.92 99.14 L140.14 98.96 L140.36 98.76 L140.58 98.56 L140.8 98.35 L141.02 98.12 L141.24 97.89 L141.46 97.64 L141.68 97.38 L141.9 97.11 L142.12 96.82 L142.34 96.52 L142.56 96.2 L142.78 95.87 L142.99 95.52 L143.21 95.15 L143.43 94.76 L143.65 94.35 L143.87 93.92 L144.09 93.46 L144.31 92.98 L144.53 92.47 L144.75 91.93 L144.97 91.36 L145.19 90.76 L145.41 90.12 L145.63 89.45 L145.85 88.74 L146.07 87.99 L146.29 87.2 L146.51 86.36 L146.73 85.48 L146.95 84.55 L147.17 83.57 L147.39 82.53 L147.61 81.44 L147.83 80.3 L148.05 79.1 L148.27 77.84 L148.49 76.52 L148.71 75.15 L148.93 73.73 L149.15 72.25 L149.37 70.72 L149.59 69.16 L149.81 67.55 L150.03 65.91 L150.25 64.26 L150.47 62.59 L150.69 60.93 L150.91 59.28 L151.13 57.67 L151.35 56.09 L151.57 54.58 L151.78 53.14 L152 51.79 L152.22 50.54 L152.44 49.4 L152.66 48.39 L152.88 47.51 L153.1 46.77 L153.32 46.15 L153.54 45.66 L153.76 45.29 L153.98 45.01 L154.2 44.82 L154.42 44.7 L154.64 44.62 L154.86 44.58 L155.08 44.56 L155.3 44.55 L155.52 44.54 L155.74 44.54 L155.96 44.54 L156.18 44.54 L156.4 44.54 L156.62 44.54 L156.84 44.54 L157.06 44.54 L217.6 44.54" stroke="#8cc6f8" stroke-width="1.25" fill="none"/>
<path d="M133.77 103.45 L133.99 103.44 L134.2 103.41 L134.42 103.39 L134.64 103.36 L134.86 103.33 L135.08 103.3 L135.3 103.27 L135.52 103.23 L135.74 103.19 L135.96 103.16 L136.18 103.12 L136.4 103.08 L136.62 103.04 L136.84 102.99 L137.06 102.95 L137.28 102.9 L137.5 102.86 L137.72 102.81 L137.94 102.76 L138.16 102.7 L138.38 102.65 L138.6 102.59 L138.82 102.53 L139.04 102.47 L139.26 102.41 L139.48 102.34 L139.7 102.27 L139.92 102.2 L140.14 102.13 L140.36 102.05 L140.58 101.97 L140.8 101.88 L141.02 101.79 L141.24 101.7 L141.46 101.61 L141.68 101.51 L141.9 101.4 L142.12 101.3 L142.34 101.18 L142.56 101.06 L142.78 100.94 L142.99 100.81 L143.21 100.67 L143.43 100.53 L143.65 100.38 L143.87 100.23 L144.09 100.06 L144.31 99.89 L144.53 99.71 L144.75 99.52 L144.97 99.32 L145.19 99.11 L145.41 98.88 L145.63 98.65 L145.85 98.4 L146.07 98.14 L146.29 97.86 L146.51 97.57 L146.73 97.27 L146.95 96.94 L147.17 96.6 L147.39 96.23 L147.61 95.85 L147.83 95.44 L148.05 95 L148.27 94.54 L148.49 94.05 L148.71 93.53 L148.93 92.98 L149.15 92.39 L149.37 91.76 L149.59 91.1 L149.81 90.39 L150.03 89.63 L150.25 88.83 L150.47 87.98 L150.69 87.07 L150.91 86.11 L151.13 85.08 L151.35 83.99 L151.57 82.84 L151.78 81.61 L152 80.32 L152.22 78.96 L152.44 77.52 L152.66 76.01 L152.88 74.44 L153.1 72.8 L153.32 71.09 L153.54 69.34 L153.76 67.53 L153.98 65.69 L154.2 63.83 L154.42 61.97 L154.64 60.11 L154.86 58.29 L155.08 56.51 L155.3 54.81 L155.52 53.2 L155.74 51.7 L155.96 50.34 L156.18 49.12 L156.4 48.05 L156.62 47.15 L156.84 46.41 L157.06 45.83 L157.28 45.38 L157.5 45.07 L157.72 44.85 L157.94 44.71 L158.16 44.63 L158.38 44.58 L158.6 44.56 L158.82 44.55 L159.04 44.54 L159.26 44.54 L159.48 44.54 L159.7 44.54 L159.92 44.54 L160.14 44.54 L160.36 44.54 L217.6 44.54" stroke="#84e0f2" stroke-width="1.25" fill="none"/>
<path d="M133.77 104.27 L133.99 104.26 L134.2 104.25 L134.42 104.24 L134.64 104.22 L134.86 104.21 L135.08 104.2 L135.3 104.18 L135.52 104.16 L135.74 104.15 L135.96 104.13 L136.18 104.11 L136.4 104.1 L136.62 104.08 L136.84 104.06 L137.06 104.04 L137.28 104.02 L137.5 104 L137.72 103.98 L137.94 103.96 L138.16 103.93 L138.38 103.91 L138.6 103.89 L138.82 103.86 L139.04 103.83 L139.26 103.81 L139.48 103.78 L139.7 103.75 L139.92 103.72 L140.14 103.69 L140.36 103.66 L140.58 103.63 L140.8 103.59 L141.02 103.56 L141.24 103.52 L141.46 103.49 L141.68 103.45 L141.9 103.41 L142.12 103.37 L142.34 103.32 L142.56 103.28 L142.78 103.23 L142.99 103.18 L143.21 103.13 L143.43 103.08 L143.65 103.02 L143.87 102.97 L144.09 102.91 L144.31 102.85 L144.53 102.78 L144.75 102.71 L144.97 102.64 L145.19 102.57 L145.41 102.5 L145.63 102.42 L145.85 102.33 L146.07 102.24 L146.29 102.15 L146.51 102.06 L146.73 101.96 L146.95 101.85 L147.17 101.74 L147.39 101.63 L147.61 101.5 L147.83 101.38 L148.05 101.24 L148.27 101.1 L148.49 100.95 L148.71 100.8 L148.93 100.63 L149.15 100.46 L149.37 100.27 L149.59 100.08 L149.81 99.87 L150.03 99.65 L150.25 99.42 L150.47 99.18 L150.69 98.92 L150.91 98.64 L151.13 98.35 L151.35 98.04 L151.57 97.7 L151.78 97.35 L152 96.97 L152.22 96.57 L152.44 96.14 L152.66 95.69 L152.88 95.2 L153.1 94.67 L153.32 94.11 L153.54 93.51 L153.76 92.87 L153.98 92.18 L154.2 91.44 L154.42 90.65 L154.64 89.8 L154.86 88.88 L155.08 87.91 L155.3 86.86 L155.52 85.73 L155.74 84.53 L155.96 83.25 L156.18 81.87 L156.4 80.41 L156.62 78.87 L156.84 77.23 L157.06 75.5 L157.28 73.68 L157.5 71.79 L157.72 69.82 L157.94 67.8 L158.16 65.73 L158.38 63.64 L158.6 61.55 L158.82 59.48 L159.04 57.46 L159.26 55.52 L159.48 53.69 L159.7 52 L159.92 50.47 L160.14 49.12 L160.36 47.96 L160.57 47 L160.79 46.24 L161.01 45.66 L161.23 45.24 L161.45 44.95 L161.67 44.77 L161.89 44.65 L162.11 44.59 L162.33 44.56 L162.55 44.55 L162.77 44.54 L162.99 44.54 L163.21 44.54 L163.43 44.54 L163.65 44.54 L163.87 44.54 L164.09 44.54 L217.6 44.54" stroke="#92eaae" stroke-width="1.25" fill="none"/>
<path d="M133.77 104.98 L133.99 104.97 L134.2 104.97 L134.42 104.96 L134.64 104.96 L134.86 104.95 L135.08 104.95 L135.3 104.94 L135.52 104.93 L135.74 104.92 L135.96 104.92 L136.18 104.91 L136.4 104.9 L136.62 104.89 L136.84 104.88 L137.06 104.87 L137.28 104.86 L137.5 104.85 L137.72 104.84 L137.94 104.83 L138.16 104.82 L138.38 104.81 L138.6 104.8 L138.82 104.79 L139.04 104.78 L139.26 104.77 L139.48 104.76 L139.7 104.74 L139.92 104.73 L140.14 104.72 L140.36 104.7 L140.58 104.69 L140.8 104.68 L141.02 104.66 L141.24 104.65 L141.46 104.63 L141.68 104.61 L141.9 104.6 L142.12 104.58 L142.34 104.56 L142.56 104.54 L142.78 104.52 L142.99 104.5 L143.21 104.48 L143.43 104.46 L143.65 104.44 L143.87 104.42 L144.09 104.39 L144.31 104.37 L144.53 104.35 L144.75 104.32 L144.97 104.29 L145.19 104.26 L145.41 104.23 L145.63 104.2 L145.85 104.17 L146.07 104.14 L146.29 104.11 L146.51 104.07 L146.73 104.03 L146.95 104 L147.17 103.96 L147.39 103.91 L147.61 103.87 L147.83 103.83 L148.05 103.78 L148.27 103.73 L148.49 103.68 L148.71 103.62 L148.93 103.57 L149.15 103.51 L149.37 103.45 L149.59 103.38 L149.81 103.32 L150.03 103.25 L150.25 103.17 L150.47 103.09 L150.69 103.01 L150.91 102.93 L151.13 102.84 L151.35 102.74 L151.57 102.64 L151.78 102.54 L152 102.43 L152.22 102.31 L152.44 102.18 L152.66 102.05 L152.88 101.91 L153.1 101.77 L153.32 101.61 L153.54 101.44 L153.76 101.27 L153.98 101.08 L154.2 100.88 L154.42 100.67 L154.64 100.44 L154.86 100.2 L155.08 99.95 L155.3 99.67 L155.52 99.38 L155.74 99.06 L155.96 98.72 L156.18 98.36 L156.4 97.97 L156.62 97.55 L156.84 97.09 L157.06 96.6 L157.28 96.08 L157.5 95.51 L157.72 94.89 L157.94 94.22 L158.16 93.5 L158.38 92.72 L158.6 91.87 L158.82 90.95 L159.04 89.95 L159.26 88.87 L159.48 87.69 L159.7 86.42 L159.92 85.05 L160.14 83.57 L160.36 81.97 L160.57 80.25 L160.79 78.42 L161.01 76.47 L161.23 74.4 L161.45 72.23 L161.67 69.96 L161.89 67.63 L162.11 65.24 L162.33 62.84 L162.55 60.45 L162.77 58.12 L162.99 55.89 L163.21 53.81 L163.43 51.9 L163.65 50.21 L163.87 48.76 L164.09 47.55 L164.31 46.6 L164.53 45.88 L164.75 45.36 L164.97 45.01 L165.19 44.79 L165.41 44.67 L165.63 44.6 L165.85 44.56 L166.07 44.55 L166.29 44.54 L166.51 44.54 L166.73 44.54 L166.95 44.54 L167.17 44.54 L167.39 44.54 L167.61 44.54 L217.6 44.54" stroke="#bcee90" stroke-width="1.25" fill="none"/>
<path d="M133.77 105.41 L133.99 105.41 L134.2 105.41 L134.42 105.4 L134.64 105.4 L134.86 105.39 L135.08 105.39 L135.3 105.38 L135.52 105.38 L135.74 105.37 L135.96 105.37 L136.18 105.36 L136.4 105.35 L136.62 105.35 L136.84 105.34 L137.06 105.33 L137.28 105.33 L137.5 105.32 L137.72 105.31 L137.94 105.3 L138.16 105.3 L138.38 105.29 L138.6 105.28 L138.82 105.27 L139.04 105.26 L139.26 105.26 L139.48 105.25 L139.7 105.24 L139.92 105.23 L140.14 105.22 L140.36 105.21 L140.58 105.2 L140.8 105.19 L141.02 105.18 L141.24 105.17 L141.46 105.16 L141.68 105.14 L141.9 105.13 L142.12 105.12 L142.34 105.11 L142.56 105.1 L142.78 105.08 L142.99 105.07 L143.21 105.05 L143.43 105.04 L143.65 105.02 L143.87 105.01 L144.09 104.99 L144.31 104.98 L144.53 104.96 L144.75 104.94 L144.97 104.92 L145.19 104.91 L145.41 104.89 L145.63 104.87 L145.85 104.85 L146.07 104.83 L146.29 104.8 L146.51 104.78 L146.73 104.76 L146.95 104.73 L147.17 104.71 L147.39 104.68 L147.61 104.66 L147.83 104.63 L148.05 104.6 L148.27 104.57 L148.49 104.54 L148.71 104.51 L148.93 104.47 L149.15 104.44 L149.37 104.4 L149.59 104.36 L149.81 104.33 L150.03 104.28 L150.25 104.24 L150.47 104.2 L150.69 104.15 L150.91 104.11 L151.13 104.06 L151.35 104 L151.57 103.95 L151.78 103.89 L152 103.83 L152.22 103.77 L152.44 103.71 L152.66 103.64 L152.88 103.57 L153.1 103.5 L153.32 103.42 L153.54 103.34 L153.76 103.25 L153.98 103.16 L154.2 103.07 L154.42 102.97 L154.64 102.86 L154.86 102.75 L155.08 102.64 L155.3 102.51 L155.52 102.38 L155.74 102.25 L155.96 102.1 L156.18 101.95 L156.4 101.79 L156.62 101.62 L156.84 101.44 L157.06 101.24 L157.28 101.04 L157.5 100.82 L157.72 100.59 L157.94 100.34 L158.16 100.08 L158.38 99.8 L158.6 99.5 L158.82 99.17 L159.04 98.83 L159.26 98.46 L159.48 98.06 L159.7 97.64 L159.92 97.18 L160.14 96.69 L160.36 96.16 L160.57 95.59 L160.79 94.98 L161.01 94.31 L161.23 93.59 L161.45 92.82 L161.67 91.98 L161.89 91.07 L162.11 90.09 L162.33 89.03 L162.55 87.89 L162.77 86.65 L162.99 85.32 L163.21 83.88 L163.43 82.34 L163.65 80.68 L163.87 78.92 L164.09 77.04 L164.31 75.05 L164.53 72.96 L164.75 70.79 L164.97 68.53 L165.19 66.22 L165.41 63.88 L165.63 61.55 L165.85 59.25 L166.07 57.02 L166.29 54.91 L166.51 52.95 L166.73 51.17 L166.95 49.61 L167.17 48.28 L167.39 47.19 L167.61 46.34 L167.83 45.7 L168.05 45.24 L168.27 44.94 L168.49 44.75 L168.71 44.64 L168.93 44.59 L169.15 44.56 L169.36 44.55 L169.58 44.54 L169.8 44.54 L170.02 44.54 L170.24 44.54 L170.46 44.54 L170.68 44.54 L170.9 44.54 L217.6 44.54" stroke="#f4e094" stroke-width="1.25" fill="none"/>
<path d="M133.77 105.7 L133.99 105.7 L134.2 105.7 L134.42 105.7 L134.64 105.69 L134.86 105.69 L135.08 105.69 L135.3 105.68 L135.52 105.68 L135.74 105.67 L135.96 105.67 L136.18 105.67 L136.4 105.66 L136.62 105.66 L136.84 105.65 L137.06 105.65 L137.28 105.65 L137.5 105.64 L137.72 105.64 L137.94 105.63 L138.16 105.63 L138.38 105.62 L138.6 105.62 L138.82 105.61 L139.04 105.61 L139.26 105.6 L139.48 105.59 L139.7 105.59 L139.92 105.58 L140.14 105.58 L140.36 105.57 L140.58 105.56 L140.8 105.56 L141.02 105.55 L141.24 105.54 L141.46 105.54 L141.68 105.53 L141.9 105.52 L142.12 105.51 L142.34 105.51 L142.56 105.5 L142.78 105.49 L142.99 105.48 L143.21 105.47 L143.43 105.46 L143.65 105.45 L143.87 105.45 L144.09 105.44 L144.31 105.43 L144.53 105.42 L144.75 105.4 L144.97 105.39 L145.19 105.38 L145.41 105.37 L145.63 105.36 L145.85 105.35 L146.07 105.33 L146.29 105.32 L146.51 105.31 L146.73 105.29 L146.95 105.28 L147.17 105.26 L147.39 105.25 L147.61 105.23 L147.83 105.22 L148.05 105.2 L148.27 105.18 L148.49 105.17 L148.71 105.15 L148.93 105.13 L149.15 105.11 L149.37 105.09 L149.59 105.07 L149.81 105.04 L150.03 105.02 L150.25 105 L150.47 104.97 L150.69 104.95 L150.91 104.92 L151.13 104.89 L151.35 104.86 L151.57 104.84 L151.78 104.8 L152 104.77 L152.22 104.74 L152.44 104.7 L152.66 104.67 L152.88 104.63 L153.1 104.59 L153.32 104.55 L153.54 104.51 L153.76 104.46 L153.98 104.42 L154.2 104.37 L154.42 104.32 L154.64 104.26 L154.86 104.21 L155.08 104.15 L155.3 104.09 L155.52 104.02 L155.74 103.96 L155.96 103.89 L156.18 103.81 L156.4 103.73 L156.62 103.65 L156.84 103.57 L157.06 103.47 L157.28 103.38 L157.5 103.28 L157.72 103.17 L157.94 103.06 L158.16 102.94 L158.38 102.81 L158.6 102.67 L158.82 102.53 L159.04 102.38 L159.26 102.22 L159.48 102.05 L159.7 101.87 L159.92 101.67 L160.14 101.46 L160.36 101.24 L160.57 101 L160.79 100.75 L161.01 100.48 L161.23 100.19 L161.45 99.88 L161.67 99.54 L161.89 99.18 L162.11 98.79 L162.33 98.36 L162.55 97.91 L162.77 97.42 L162.99 96.89 L163.21 96.31 L163.43 95.68 L163.65 95 L163.87 94.26 L164.09 93.46 L164.31 92.58 L164.53 91.63 L164.75 90.6 L164.97 89.47 L165.19 88.24 L165.41 86.91 L165.63 85.46 L165.85 83.89 L166.07 82.19 L166.29 80.37 L166.51 78.41 L166.73 76.33 L166.95 74.12 L167.17 71.81 L167.39 69.39 L167.61 66.91 L167.83 64.39 L168.05 61.87 L168.27 59.39 L168.49 57 L168.71 54.74 L168.93 52.67 L169.15 50.82 L169.36 49.22 L169.58 47.9 L169.8 46.84 L170.02 46.04 L170.24 45.46 L170.46 45.07 L170.68 44.83 L170.9 44.68 L171.12 44.6 L171.34 44.56 L171.56 44.55 L171.78 44.54 L172 44.54 L172.22 44.54 L172.44 44.54 L172.66 44.54 L172.88 44.54 L173.1 44.54 L217.6 44.54" stroke="#f8c898" stroke-width="1.25" fill="none"/>
<path d="M133.77 106.16 L133.99 106.16 L134.2 106.16 L134.42 106.15 L134.64 106.15 L134.86 106.15 L135.08 106.15 L135.3 106.15 L135.52 106.14 L135.74 106.14 L135.96 106.14 L136.18 106.14 L136.4 106.13 L136.62 106.13 L136.84 106.13 L137.06 106.12 L137.28 106.12 L137.5 106.12 L137.72 106.12 L137.94 106.11 L138.16 106.11 L138.38 106.11 L138.6 106.1 L138.82 106.1 L139.04 106.1 L139.26 106.09 L139.48 106.09 L139.7 106.08 L139.92 106.08 L140.14 106.08 L140.36 106.07 L140.58 106.07 L140.8 106.07 L141.02 106.06 L141.24 106.06 L141.46 106.05 L141.68 106.05 L141.9 106.04 L142.12 106.04 L142.34 106.03 L142.56 106.03 L142.78 106.02 L142.99 106.02 L143.21 106.01 L143.43 106.01 L143.65 106 L143.87 106 L144.09 105.99 L144.31 105.98 L144.53 105.98 L144.75 105.97 L144.97 105.96 L145.19 105.96 L145.41 105.95 L145.63 105.94 L145.85 105.93 L146.07 105.93 L146.29 105.92 L146.51 105.91 L146.73 105.9 L146.95 105.89 L147.17 105.89 L147.39 105.88 L147.61 105.87 L147.83 105.86 L148.05 105.85 L148.27 105.84 L148.49 105.83 L148.71 105.82 L148.93 105.8 L149.15 105.79 L149.37 105.78 L149.59 105.77 L149.81 105.76 L150.03 105.74 L150.25 105.73 L150.47 105.72 L150.69 105.7 L150.91 105.69 L151.13 105.67 L151.35 105.65 L151.57 105.64 L151.78 105.62 L152 105.6 L152.22 105.58 L152.44 105.56 L152.66 105.54 L152.88 105.52 L153.1 105.5 L153.32 105.48 L153.54 105.46 L153.76 105.43 L153.98 105.41 L154.2 105.38 L154.42 105.35 L154.64 105.33 L154.86 105.3 L155.08 105.27 L155.3 105.23 L155.52 105.2 L155.74 105.17 L155.96 105.13 L156.18 105.09 L156.4 105.05 L156.62 105.01 L156.84 104.97 L157.06 104.92 L157.28 104.87 L157.5 104.82 L157.72 104.77 L157.94 104.71 L158.16 104.66 L158.38 104.6 L158.6 104.53 L158.82 104.46 L159.04 104.39 L159.26 104.32 L159.48 104.24 L159.7 104.15 L159.92 104.06 L160.14 103.97 L160.36 103.87 L160.57 103.76 L160.79 103.65 L161.01 103.53 L161.23 103.41 L161.45 103.27 L161.67 103.13 L161.89 102.98 L162.11 102.81 L162.33 102.64 L162.55 102.45 L162.77 102.25 L162.99 102.03 L163.21 101.8 L163.43 101.56 L163.65 101.29 L163.87 101 L164.09 100.69 L164.31 100.35 L164.53 99.99 L164.75 99.59 L164.97 99.16 L165.19 98.7 L165.41 98.19 L165.63 97.63 L165.85 97.03 L166.07 96.37 L166.29 95.64 L166.51 94.85 L166.73 93.98 L166.95 93.02 L167.17 91.97 L167.39 90.82 L167.61 89.56 L167.83 88.18 L168.05 86.66 L168.27 85 L168.49 83.19 L168.71 81.23 L168.93 79.11 L169.15 76.84 L169.36 74.42 L169.58 71.87 L169.8 69.21 L170.02 66.48 L170.24 63.72 L170.46 60.98 L170.68 58.32 L170.9 55.79 L171.12 53.46 L171.34 51.39 L171.56 49.6 L171.78 48.12 L172 46.96 L172.22 46.09 L172.44 45.47 L172.66 45.07 L172.88 44.81 L173.1 44.67 L173.32 44.6 L173.54 44.56 L173.76 44.55 L173.98 44.54 L174.2 44.54 L174.42 44.54 L174.64 44.54 L174.86 44.54 L175.08 44.54 L217.6 44.54" stroke="#f8b0ac" stroke-width="1.25" fill="none"/>
<path d="M133.77 106.25 L133.99 106.25 L134.2 106.24 L134.42 106.24 L134.64 106.24 L134.86 106.23 L135.08 106.23 L135.3 106.23 L135.52 106.22 L135.74 106.22 L135.96 106.22 L136.18 106.21 L136.4 106.21 L136.62 106.2 L136.84 106.2 L137.06 106.19 L137.28 106.19 L137.5 106.18 L137.72 106.18 L137.94 106.18 L138.16 106.17 L138.38 106.17 L138.6 106.16 L138.82 106.16 L139.04 106.15 L139.26 106.14 L139.48 106.14 L139.7 106.13 L139.92 106.13 L140.14 106.12 L140.36 106.12 L140.58 106.11 L140.8 106.1 L141.02 106.1 L141.24 106.09 L141.46 106.08 L141.68 106.08 L141.9 106.07 L142.12 106.06 L142.34 106.05 L142.56 106.05 L142.78 106.04 L142.99 106.03 L143.21 106.02 L143.43 106.01 L143.65 106.01 L143.87 106 L144.09 105.99 L144.31 105.98 L144.53 105.97 L144.75 105.96 L144.97 105.95 L145.19 105.94 L145.41 105.93 L145.63 105.92 L145.85 105.91 L146.07 105.9 L146.29 105.89 L146.51 105.87 L146.73 105.86 L146.95 105.85 L147.17 105.84 L147.39 105.82 L147.61 105.81 L147.83 105.8 L148.05 105.78 L148.27 105.77 L148.49 105.75 L148.71 105.74 L148.93 105.72 L149.15 105.7 L149.37 105.69 L149.59 105.67 L149.81 105.65 L150.03 105.63 L150.25 105.61 L150.47 105.59 L150.69 105.57 L150.91 105.55 L151.13 105.53 L151.35 105.51 L151.57 105.48 L151.78 105.46 L152 105.44 L152.22 105.41 L152.44 105.38 L152.66 105.36 L152.88 105.33 L153.1 105.3 L153.32 105.27 L153.54 105.24 L153.76 105.21 L153.98 105.17 L154.2 105.14 L154.42 105.1 L154.64 105.06 L154.86 105.03 L155.08 104.99 L155.3 104.94 L155.52 104.9 L155.74 104.86 L155.96 104.81 L156.18 104.76 L156.4 104.71 L156.62 104.66 L156.84 104.6 L157.06 104.54 L157.28 104.48 L157.5 104.42 L157.72 104.36 L157.94 104.29 L158.16 104.22 L158.38 104.14 L158.6 104.07 L158.82 103.99 L159.04 103.9 L159.26 103.81 L159.48 103.72 L159.7 103.62 L159.92 103.52 L160.14 103.41 L160.36 103.3 L160.57 103.18 L160.79 103.06 L161.01 102.92 L161.23 102.78 L161.45 102.64 L161.67 102.48 L161.89 102.32 L162.11 102.15 L162.33 101.97 L162.55 101.78 L162.77 101.57 L162.99 101.36 L163.21 101.13 L163.43 100.89 L163.65 100.63 L163.87 100.35 L164.09 100.06 L164.31 99.75 L164.53 99.42 L164.75 99.07 L164.97 98.69 L165.19 98.29 L165.41 97.85 L165.63 97.39 L165.85 96.9 L166.07 96.37 L166.29 95.8 L166.51 95.19 L166.73 94.53 L166.95 93.83 L167.17 93.07 L167.39 92.25 L167.61 91.38 L167.83 90.43 L168.05 89.42 L168.27 88.33 L168.49 87.15 L168.71 85.89 L168.93 84.55 L169.15 83.1 L169.36 81.56 L169.58 79.92 L169.8 78.18 L170.02 76.34 L170.24 74.41 L170.46 72.39 L170.68 70.3 L170.9 68.14 L171.12 65.93 L171.34 63.71 L171.56 61.49 L171.78 59.3 L172 57.18 L172.22 55.16 L172.44 53.27 L172.66 51.54 L172.88 50 L173.1 48.66 L173.32 47.54 L173.54 46.64 L173.76 45.94 L173.98 45.43 L174.2 45.07 L174.42 44.84 L174.64 44.69 L174.86 44.61 L175.08 44.57 L175.3 44.55 L175.52 44.54 L175.74 44.54 L175.96 44.54 L176.18 44.54 L176.4 44.54 L176.62 44.54 L176.84 44.54 L217.6 44.54" stroke="#f4a684" stroke-width="1.25" fill="none"/>
<g fill="none" stroke-linecap="round">
<path d="M190.5 77 C190 68 188 58 185.4 52.9" stroke="#1f6fe0" stroke-width="1.2"/>
<path d="M192 70 C191.5 64 190.5 59 189.6 55" stroke="#0a2080" stroke-width="1.2"/>
<path d="M193.8 77 C194 68 195 58 195.3 52.9" stroke="#1aaaf0" stroke-width="1.2"/>
<path d="M195.8 77 C196 68 198 58 201.4 54.2" stroke="#1a5ad0" stroke-width="1.2"/>
</g>
<rect x="187.8" y="61" width="10.5" height="12.8" rx="1" fill="#f3c9b0" stroke="#e07840" stroke-width="0.7"/>
<path d="M187.8 62.5H198.3M187.8 64.1H198.3M187.8 65.7H198.3M187.8 67.3H198.3M187.8 68.9H198.3M187.8 70.5H198.3M187.8 72.1H198.3M187.8 73.7H198.3" stroke="#e07840" stroke-width="0.5"/>
<path d="M190.3 61 V77 M192.6 61 V77 M195 61 V77" stroke="#2068d8" stroke-width="0.9"/>
<path d="M198.3 61.5 H204.5 V73.8 H198.3" stroke="#e89060" stroke-width="0.6" fill="none"/>
<path d="M202.3 68.4 q0.6 -1 1.2 0 q0.6 1 1.2 0" stroke="#e8c040" stroke-width="0.5" fill="none"/>
<path d="M178.9 76.9 L210.3 77.2 L209.1 79.6 L176.5 80.4 Z" fill="#3a3a3a"/>
<path d="M182.6 85.2 L186.3 82.4 M190.2 86 L191.3 82.3 M196.2 82.6 L197.8 83.6 M201 83.5 L204.4 86.4" stroke="#2a8cf0" stroke-width="1.0" fill="none"/>
<path d="M196.2 82.6 L197.8 83.6" stroke="#0a2080" stroke-width="1.0" fill="none"/>
<rect x="188.3" y="86.4" width="10.3" height="13.2" rx="1.2" fill="#d4d4d4" stroke="#8c8c8c" stroke-width="0.6"/>
<path d="M188.6 88.3H198.3M188.6 90.2H198.3M188.6 92.1H198.3M188.6 94H198.3M188.6 95.9H198.3M188.6 97.8H198.3" stroke="#9a9a9a" stroke-width="0.7"/>
<path d="M198.6 86.8 H204.2 V99.4 H198.6" stroke="#a8a8a8" stroke-width="0.6" fill="none"/>
<path d="M202 94.3 q0.6 -1 1.2 0 q0.6 1 1.2 0" stroke="#e8c040" stroke-width="0.5" fill="none"/>
<text x="110" y="146.6" font-size="7.1" text-anchor="start" fill="#1a1a1a" stroke="#1a1a1a" stroke-width="0.22" font-weight="bold">C</text>
<rect x="129.7" y="145.6" width="88.4" height="69.4" fill="none" stroke="#a8a8a8" stroke-width="0.9"/>
<path d="M144.43 215v-1.2M144.43 145.6v1.2M159.17 215v-1.2M159.17 145.6v1.2M173.9 215v-1.2M173.9 145.6v1.2M188.63 215v-1.2M188.63 145.6v1.2M203.37 215v-1.2M203.37 145.6v1.2" stroke="#a8a8a8" stroke-width="0.8"/>
<path d="M129.7 197.65h1.2M218.1 197.65h-1.2M129.7 162.95h1.2M218.1 162.95h-1.2" stroke="#a8a8a8" stroke-width="0.8"/>
<text x="129.7" y="221.2" font-size="5.9" text-anchor="middle" fill="#1a1a1a" stroke="#1a1a1a" stroke-width="0.22" >0</text>
<text x="159.17" y="221.2" font-size="5.9" text-anchor="middle" fill="#1a1a1a" stroke="#1a1a1a" stroke-width="0.22" >20</text>
<text x="188.63" y="221.2" font-size="5.9" text-anchor="middle" fill="#1a1a1a" stroke="#1a1a1a" stroke-width="0.22" >40</text>
<text x="218.1" y="221.2" font-size="5.9" text-anchor="middle" fill="#1a1a1a" stroke="#1a1a1a" stroke-width="0.22" >60</text>
<text x="128" y="217.1" font-size="5.9" text-anchor="end" fill="#1a1a1a" stroke="#1a1a1a" stroke-width="0.22" >0</text>
<text x="128" y="182.4" font-size="5.9" text-anchor="end" fill="#1a1a1a" stroke="#1a1a1a" stroke-width="0.22" >20</text>
<text x="128" y="147.7" font-size="5.9" text-anchor="end" fill="#1a1a1a" stroke="#1a1a1a" stroke-width="0.22" >40</text>
<text x="174.4" y="227.2" font-size="5.8" text-anchor="middle" fill="#1a1a1a" stroke="#1a1a1a" stroke-width="0.22" ><tspan font-style="italic">T</tspan> (K)</text>
<text transform="translate(117.3,180.6) rotate(-90)" font-size="5.8" text-anchor="middle" fill="#1a1a1a" stroke="#1a1a1a" stroke-width="0.12"><tspan font-style="italic">R</tspan> (Ω)</text>
<path d="M129.7 182.1 L218.1 157.8" stroke="#9a9a9a" stroke-width="0.7" fill="none"/>
<path d="M129.7 214.8C133.08 214.8 143.62 214.82 150 214.8C156.38 214.78 164.3 214.78 168 214.7C171.7 214.62 171.15 214.78 172.2 214.3C173.25 213.82 173.73 213.1 174.3 211.8C174.87 210.5 175.22 208.55 175.6 206.5C175.98 204.45 176.27 201.83 176.6 199.5C176.93 197.17 177.23 194.83 177.6 192.5C177.97 190.17 178.3 187.58 178.8 185.5C179.3 183.42 179.9 181.53 180.6 180C181.3 178.47 181.85 177.58 183 176.3C184.15 175.02 185.5 173.58 187.5 172.3C189.5 171.02 192.42 169.72 195 168.6C197.58 167.48 200.33 166.43 203 165.6C205.67 164.77 208.48 164.15 211 163.6C213.52 163.05 216.92 162.52 218.1 162.3" stroke="#4a4a4a" stroke-width="0.85" fill="none"/>
<circle cx="138.3" cy="187.1" r="0.9" fill="#ee1111"/>
<circle cx="142.9" cy="183.7" r="0.9" fill="#ee1111"/>
<circle cx="147.1" cy="180.3" r="0.9" fill="#ee1111"/>
<circle cx="151.9" cy="177.7" r="0.9" fill="#ee1111"/>
<circle cx="156.3" cy="175.6" r="0.9" fill="#ee1111"/>
<circle cx="160.6" cy="174" r="0.9" fill="#ee1111"/>
<circle cx="164.8" cy="172.5" r="0.9" fill="#ee1111"/>
<circle cx="169.2" cy="171" r="0.9" fill="#ee1111"/>
<circle cx="173.8" cy="169.8" r="0.9" fill="#ee1111"/>
<circle cx="178.2" cy="168.5" r="0.9" fill="#ee1111"/>
<circle cx="182.8" cy="167.5" r="0.9" fill="#ee1111"/>
<circle cx="186.9" cy="166.1" r="0.9" fill="#ee1111"/>
<circle cx="191.3" cy="165" r="0.9" fill="#ee1111"/>
<circle cx="197.3" cy="163.5" r="0.9" fill="#ee1111"/>
<circle cx="203.6" cy="162.3" r="0.9" fill="#ee1111"/>
<text x="193.5" y="160.6" font-size="6.3" text-anchor="middle" fill="#e82020" stroke="#e82020" stroke-width="0.22" >50 T</text>
<text x="207" y="174.4" font-size="6.3" text-anchor="middle" fill="#1a1a1a" stroke="#1a1a1a" stroke-width="0.22" >0 T</text>
<text x="241.4" y="38.9" font-size="7.1" text-anchor="start" fill="#1a1a1a" stroke="#1a1a1a" stroke-width="0.22" font-weight="bold">D</text>
<defs>
<linearGradient id="gTop" gradientUnits="userSpaceOnUse" x1="258" y1="38" x2="283" y2="66"><stop offset="0" stop-color="#bb4a44"/><stop offset="0.42" stop-color="#c65a50"/><stop offset="0.68" stop-color="#dc9c8a" stop-opacity="0.85"/><stop offset="1" stop-color="#eec4ae" stop-opacity="0"/></linearGradient>
<linearGradient id="gTop2" x1="0" y1="0" x2="0" y2="1"><stop offset="0" stop-color="#e9b6a2"/><stop offset="0.5" stop-color="#f0cbb2"/><stop offset="1" stop-color="#f6dcbc"/></linearGradient>
<linearGradient id="gCb" x1="0" y1="0" x2="0" y2="1"><stop offset="0" stop-color="#c4524a"/><stop offset="0.25" stop-color="#e8b09a"/><stop offset="0.375" stop-color="#f8e8b0"/><stop offset="0.5" stop-color="#f0ecd8"/><stop offset="0.625" stop-color="#a8c8f0"/><stop offset="0.8" stop-color="#5a9ef0"/><stop offset="1" stop-color="#3a88f0"/></linearGradient>
</defs>
<rect x="260.5" y="39.8" width="84" height="69.6" fill="#f8e4a4"/>
<path d="M260.5 39.8 L344.5 39.8 L344.5 47.5 L344.5 47.2 L329.1 47.6 L312.4 47.6 L303.3 48.4 L294.9 48.9 L290.9 50.7 L288.6 52.3 L286.3 53.8 L283.4 55.3 L278.8 56.7 L275.3 59 L272.4 60.8 L270.1 62.5 L267.8 63.6 L265.5 65.4 L263.2 66.5 L260.9 68.3Z" fill="url(#gTop2)"/>
<path d="M260.5 39.8 L310 39.8 L260.5 80 Z" fill="url(#gTop)"/>
<path d="M260.9 69.3 L263.2 67.5 L265.5 66.4 L267.8 64.6 L270.1 63.5 L272.4 61.8 L275.3 60 L278.8 57.7 L283.4 56.3 L286.3 54.8 L288.6 53.3 L290.9 51.7 L294.9 49.9 L303.3 49.4 L312.4 48.6 L329.1 48.6 L344.5 48.2" stroke="#f4cfa8" stroke-width="3" fill="none" opacity="0.7"/>
<path d="M260.5 89.5 L265 87.6 L269.5 85.3 L274 83 L278.8 80.6 L282 79.6 L286.8 77.6 L292.6 75.3 L297.6 73.6 L305.2 72.4 L320.3 71.9 L344.5 71.6" stroke="#f2eacc" stroke-width="3.2" fill="none" opacity="0.55"/>
<path d="M260.5 91.5 L265 89.6 L269.5 87.3 L274 85 L278.8 82.6 L282 81.6 L286.8 79.6 L292.6 77.3 L297.6 75.6 L305.2 74.4 L320.3 73.9 L344.5 73.6 L344.5 105.8 L260.5 105.8Z" fill="#3b8ff2"/>
<path d="M260.5 91.3 L265 89.4 L269.5 87.1 L274 84.8 L278.8 82.4 L282 81.4 L286.8 79.4 L292.6 77.1 L297.6 75.4 L305.2 74.2 L320.3 73.7 L344.5 73.4" stroke="#e4eeec" stroke-width="1.1" fill="none" opacity="0.75"/>
<rect x="260.5" y="105.8" width="84" height="3.6" fill="#ffffff"/>
<path d="M260.9 70.8 L263.2 69 L265.5 67.9 L267.8 66.1 L270.1 65 L272.4 63.3 L275.3 61.5 L278.8 59.2 L283.4 57.8 L286.3 56.3 L288.6 54.8 L290.9 53.2 L294.9 51.4 L303.3 50.9 L312.4 50.1 L329.1 50.1 L344.5 49.7" stroke="#f06040" stroke-width="0.5" fill="none" opacity="0.6"/>
<path d="M260.9 100.2 L263.2 96.3 L265.5 95.1 L267.8 92.8 L270.1 91.6 L272.4 90.1 L275.3 88.5 L278.5 86.7 L283.4 85.9 L285.7 84.7 L288.2 83.6 L290.9 82.4 L294.9 81.3 L303.3 80.1 L312.4 79.6 L329.1 78.9 L344.5 78.9" stroke="#2040d0" stroke-width="0.5" fill="none" opacity="0.6"/>
<circle cx="260.9" cy="70.8" r="1.08" fill="#f01010"/>
<circle cx="263.2" cy="69" r="1.08" fill="#f01010"/>
<circle cx="265.5" cy="67.9" r="1.08" fill="#f01010"/>
<circle cx="267.8" cy="66.1" r="1.08" fill="#f01010"/>
<circle cx="270.1" cy="65" r="1.08" fill="#f01010"/>
<circle cx="272.4" cy="63.3" r="1.08" fill="#f01010"/>
<circle cx="275.3" cy="61.5" r="1.08" fill="#f01010"/>
<circle cx="278.8" cy="59.2" r="1.08" fill="#f01010"/>
<circle cx="283.4" cy="57.8" r="1.08" fill="#f01010"/>
<circle cx="286.3" cy="56.3" r="1.08" fill="#f01010"/>
<circle cx="288.6" cy="54.8" r="1.08" fill="#f01010"/>
<circle cx="290.9" cy="53.2" r="1.08" fill="#f01010"/>
<circle cx="294.9" cy="51.4" r="1.08" fill="#f01010"/>
<circle cx="303.3" cy="50.9" r="1.08" fill="#f01010"/>
<circle cx="312.4" cy="50.1" r="1.08" fill="#f01010"/>
<circle cx="329.1" cy="50.1" r="1.08" fill="#f01010"/>
<circle cx="344.5" cy="49.7" r="1.08" fill="#f01010"/>
<circle cx="260.9" cy="100.2" r="1.08" fill="#0414d4"/>
<circle cx="263.2" cy="96.3" r="1.08" fill="#0414d4"/>
<circle cx="265.5" cy="95.1" r="1.08" fill="#0414d4"/>
<circle cx="267.8" cy="92.8" r="1.08" fill="#0414d4"/>
<circle cx="270.1" cy="91.6" r="1.08" fill="#0414d4"/>
<circle cx="272.4" cy="90.1" r="1.08" fill="#0414d4"/>
<circle cx="275.3" cy="88.5" r="1.08" fill="#0414d4"/>
<circle cx="278.5" cy="86.7" r="1.08" fill="#0414d4"/>
<circle cx="283.4" cy="85.9" r="1.08" fill="#0414d4"/>
<circle cx="285.7" cy="84.7" r="1.08" fill="#0414d4"/>
<circle cx="288.2" cy="83.6" r="1.08" fill="#0414d4"/>
<circle cx="290.9" cy="82.4" r="1.08" fill="#0414d4"/>
<circle cx="294.9" cy="81.3" r="1.08" fill="#0414d4"/>
<circle cx="303.3" cy="80.1" r="1.08" fill="#0414d4"/>
<circle cx="312.4" cy="79.6" r="1.08" fill="#0414d4"/>
<circle cx="329.1" cy="78.9" r="1.08" fill="#0414d4"/>
<circle cx="344.5" cy="78.9" r="1.08" fill="#0414d4"/>
<rect x="260.5" y="39.8" width="84" height="69.6" fill="none" stroke="#b0b0b0" stroke-width="0.7"/>
<path d="M272.9 109.4v-1.2M272.9 39.8v1.2M285.3 109.4v-1.2M285.3 39.8v1.2M297.7 109.4v-1.2M297.7 39.8v1.2M310.1 109.4v-1.2M310.1 39.8v1.2M322.5 109.4v-1.2M322.5 39.8v1.2M334.9 109.4v-1.2M334.9 39.8v1.2" stroke="#909090" stroke-width="0.8"/>
<path d="M260.5 102.44h1.2M344.5 102.44h-1.2M260.5 95.48h1.2M344.5 95.48h-1.2M260.5 88.52h1.2M344.5 88.52h-1.2M260.5 81.56h1.2M344.5 81.56h-1.2M260.5 74.6h1.2M344.5 74.6h-1.2M260.5 67.64h1.2M344.5 67.64h-1.2M260.5 60.68h1.2M344.5 60.68h-1.2M260.5 53.72h1.2M344.5 53.72h-1.2M260.5 46.76h1.2M344.5 46.76h-1.2" stroke="#909090" stroke-width="0.8"/>
<text x="260.5" y="115.7" font-size="5.8" text-anchor="middle" fill="#1a1a1a" stroke="#1a1a1a" stroke-width="0.22" >0</text>
<text x="285.3" y="115.7" font-size="5.8" text-anchor="middle" fill="#1a1a1a" stroke="#1a1a1a" stroke-width="0.22" >2</text>
<text x="310.1" y="115.7" font-size="5.8" text-anchor="middle" fill="#1a1a1a" stroke="#1a1a1a" stroke-width="0.22" >4</text>
<text x="334.9" y="115.7" font-size="5.8" text-anchor="middle" fill="#1a1a1a" stroke="#1a1a1a" stroke-width="0.22" >6</text>
<text x="259.3" y="111.5" font-size="5.8" text-anchor="end" fill="#1a1a1a" stroke="#1a1a1a" stroke-width="0.22" >0</text>
<text x="259.3" y="97.58" font-size="5.8" text-anchor="end" fill="#1a1a1a" stroke="#1a1a1a" stroke-width="0.22" >20</text>
<text x="259.3" y="83.66" font-size="5.8" text-anchor="end" fill="#1a1a1a" stroke="#1a1a1a" stroke-width="0.22" >40</text>
<text x="259.3" y="69.74" font-size="5.8" text-anchor="end" fill="#1a1a1a" stroke="#1a1a1a" stroke-width="0.22" >60</text>
<text x="259.3" y="55.82" font-size="5.8" text-anchor="end" fill="#1a1a1a" stroke="#1a1a1a" stroke-width="0.22" >80</text>
<text x="259.3" y="41.9" font-size="5.8" text-anchor="end" fill="#1a1a1a" stroke="#1a1a1a" stroke-width="0.22" >100</text>
<text x="301.2" y="122.6" font-size="5.9" text-anchor="middle" fill="#1a1a1a" stroke="#1a1a1a" stroke-width="0.08" >electron doping (10<tspan font-size="3.6" dy="-2">11</tspan><tspan dy="2"> cm</tspan><tspan font-size="3.6" dy="-2">-2</tspan><tspan dy="2">)</tspan></text>
<text transform="translate(249.0,73.9) rotate(-90)" font-size="5.8" text-anchor="middle" fill="#1a1a1a" stroke="#1a1a1a" stroke-width="0.12"><tspan font-style="italic">T</tspan> (K)</text>
<text x="305" y="67" font-size="6.2" text-anchor="middle" fill="#1a1a1a" stroke="#1a1a1a" stroke-width="0.22" ><tspan font-style="italic">ρ∝T</tspan></text>
<text x="306" y="96.8" font-size="6.2" text-anchor="middle" fill="#1a1a1a" stroke="#1a1a1a" stroke-width="0.22" >SC</text>
<rect x="349.3" y="39.4" width="5.9" height="70" fill="url(#gCb)" stroke="#a0a0a0" stroke-width="0.6"/>
<text x="356.5" y="41.8" font-size="6.3" text-anchor="start" fill="#1a1a1a" stroke="#1a1a1a" stroke-width="0.22" >3</text>
<text x="356.5" y="50.5" font-size="6.3" text-anchor="start" fill="#1a1a1a" stroke="#1a1a1a" stroke-width="0.22" >2</text>
<text x="356.5" y="59.2" font-size="6.3" text-anchor="start" fill="#1a1a1a" stroke="#1a1a1a" stroke-width="0.22" >1</text>
<text x="356.5" y="67.9" font-size="6.3" text-anchor="start" fill="#1a1a1a" stroke="#1a1a1a" stroke-width="0.22" >0</text>
<text x="356.5" y="76.6" font-size="6.3" text-anchor="start" fill="#1a1a1a" stroke="#1a1a1a" stroke-width="0.22" >-1</text>
<text x="356.5" y="85.3" font-size="6.3" text-anchor="start" fill="#1a1a1a" stroke="#1a1a1a" stroke-width="0.22" >-2</text>
<text x="356.5" y="94" font-size="6.3" text-anchor="start" fill="#1a1a1a" stroke="#1a1a1a" stroke-width="0.22" >-3</text>
<text x="356.5" y="102.7" font-size="6.3" text-anchor="start" fill="#1a1a1a" stroke="#1a1a1a" stroke-width="0.22" >-4</text>
<text x="356.5" y="111.4" font-size="6.3" text-anchor="start" fill="#1a1a1a" stroke="#1a1a1a" stroke-width="0.22" >-5</text>
<text x="370" y="34.2" font-size="5.8" text-anchor="end" fill="#1a1a1a" stroke="#1a1a1a" stroke-width="0.08" >(<tspan font-style="italic">ρ</tspan> - <tspan font-style="italic">ρ</tspan><tspan font-size="3.6" dy="1">L</tspan><tspan dy="-1">)/</tspan><tspan font-style="italic">ρ</tspan> (%)</text>
<text x="241" y="146.6" font-size="7.1" text-anchor="start" fill="#1a1a1a" stroke="#1a1a1a" stroke-width="0.22" font-weight="bold">E</text>
<rect x="262.3" y="147" width="88.2" height="68.5" fill="none" stroke="#a8a8a8" stroke-width="0.9"/>
<path d="M270.32 215.5v-1.2M270.32 147v1.2M278.34 215.5v-1.2M278.34 147v1.2M286.35 215.5v-1.2M286.35 147v1.2M294.37 215.5v-1.2M294.37 147v1.2M302.39 215.5v-1.2M302.39 147v1.2M310.41 215.5v-1.2M310.41 147v1.2M318.43 215.5v-1.2M318.43 147v1.2M326.44 215.5v-1.2M326.44 147v1.2M334.46 215.5v-1.2M334.46 147v1.2M342.48 215.5v-1.2M342.48 147v1.2" stroke="#a8a8a8" stroke-width="0.8"/>
<path d="M262.3 209.26h1.2M350.5 209.26h-1.2M262.3 203.02h1.2M350.5 203.02h-1.2M262.3 196.78h1.2M350.5 196.78h-1.2M262.3 190.54h1.2M350.5 190.54h-1.2M262.3 184.3h1.2M350.5 184.3h-1.2M262.3 178.06h1.2M350.5 178.06h-1.2M262.3 171.82h1.2M350.5 171.82h-1.2M262.3 165.58h1.2M350.5 165.58h-1.2M262.3 159.34h1.2M350.5 159.34h-1.2M262.3 153.1h1.2M350.5 153.1h-1.2" stroke="#a8a8a8" stroke-width="0.8"/>
<text x="262.3" y="221.2" font-size="6.0" text-anchor="middle" fill="#1a1a1a" stroke="#1a1a1a" stroke-width="0.22" >0</text>
<text x="278.34" y="221.2" font-size="6.0" text-anchor="middle" fill="#1a1a1a" stroke="#1a1a1a" stroke-width="0.22" >10</text>
<text x="294.37" y="221.2" font-size="6.0" text-anchor="middle" fill="#1a1a1a" stroke="#1a1a1a" stroke-width="0.22" >20</text>
<text x="310.41" y="221.2" font-size="6.0" text-anchor="middle" fill="#1a1a1a" stroke="#1a1a1a" stroke-width="0.22" >30</text>
<text x="326.44" y="221.2" font-size="6.0" text-anchor="middle" fill="#1a1a1a" stroke="#1a1a1a" stroke-width="0.22" >40</text>
<text x="342.48" y="221.2" font-size="6.0" text-anchor="middle" fill="#1a1a1a" stroke="#1a1a1a" stroke-width="0.22" >50</text>
<text x="260.8" y="218" font-size="6.0" text-anchor="end" fill="#1a1a1a" stroke="#1a1a1a" stroke-width="0.22" >15</text>
<text x="260.8" y="205.52" font-size="6.0" text-anchor="end" fill="#1a1a1a" stroke="#1a1a1a" stroke-width="0.22" >20</text>
<text x="260.8" y="193.04" font-size="6.0" text-anchor="end" fill="#1a1a1a" stroke="#1a1a1a" stroke-width="0.22" >25</text>
<text x="260.8" y="180.56" font-size="6.0" text-anchor="end" fill="#1a1a1a" stroke="#1a1a1a" stroke-width="0.22" >30</text>
<text x="260.8" y="168.08" font-size="6.0" text-anchor="end" fill="#1a1a1a" stroke="#1a1a1a" stroke-width="0.22" >35</text>
<text x="260.8" y="155.6" font-size="6.0" text-anchor="end" fill="#1a1a1a" stroke="#1a1a1a" stroke-width="0.22" >40</text>
<text x="309.9" y="227.8" font-size="5.8" text-anchor="middle" fill="#1a1a1a" stroke="#1a1a1a" stroke-width="0.22" ><tspan font-style="italic">T</tspan><tspan font-size="3.6" dy="1">c</tspan><tspan dy="-1"> (K)</tspan></text>
<text transform="translate(249.3,180.2) rotate(-90)" font-size="6.4" text-anchor="middle" fill="#1a1a1a" stroke="#1a1a1a" stroke-width="0.12"><tspan font-style="italic" stroke-width="0.3">A</tspan><tspan font-size="3.4" dx="0.3" dy="-2.6">□</tspan><tspan dy="2.6"> (Ω/K)</tspan></text>
<path d="M262.3 215.4 L264.3 214.87 L266.3 214.31 L268.3 213.7 L270.3 213.06 L272.3 212.38 L274.3 211.65 L276.3 210.89 L278.3 210.09 L280.3 209.24 L282.3 208.36 L284.3 207.44 L286.3 206.48 L288.3 205.48 L290.3 204.44 L292.3 203.36 L294.3 202.24 L296.3 201.08 L298.3 199.88 L300.3 198.64 L302.3 197.37 L304.3 196.05 L306.3 194.69 L308.3 193.29 L310.3 191.86 L312.3 190.38 L314.3 188.87 L316.3 187.31 L318.3 185.72 L320.3 184.08 L322.3 182.41 L324.3 180.7 L326.3 178.94 L328.3 177.15 L330.3 175.32 L332.3 173.45 L334.3 171.54 L336.3 169.58 L338.3 167.59 L340.3 165.56 L342.3 163.49 L344.3 161.39 L346.3 159.24 L348.3 157.05 L350.3 154.82" stroke="#f06a6a" stroke-width="0.9" fill="none"/>
<path d="M283.1 206.89V209.7M282.5 206.89h1.2M282.5 209.7h1.2M290 203.12V206.47M289.4 203.12h1.2M289.4 206.47h1.2M293.8 201.1V204.75M293.2 201.1h1.2M293.2 204.75h1.2M299.2 198.29V202.36M298.6 198.29h1.2M298.6 202.36h1.2M303.1 195.26V199.63M302.5 195.26h1.2M302.5 199.63h1.2M306.9 192.64V197.31M306.3 192.64h1.2M306.3 197.31h1.2M310.8 189.6V194.58M310.2 189.6h1.2M310.2 194.58h1.2M314.6 186.5V191.78M314 186.5h1.2M314 191.78h1.2M316.9 184.51V189.97M316.3 184.51h1.2M316.3 189.97h1.2M319.2 182.47V188.11M318.6 182.47h1.2M318.6 188.11h1.2M322.3 179.67V185.55M321.7 179.67h1.2M321.7 185.55h1.2M324.6 177.6V183.67M324 177.6h1.2M324 183.67h1.2M327.7 174.84V181.15M327.1 174.84h1.2M327.1 181.15h1.2M330 172.55V179.04M329.4 172.55h1.2M329.4 179.04h1.2M332.3 170.21V176.88M331.7 170.21h1.2M331.7 176.88h1.2M333.8 168.62V175.41M333.2 168.62h1.2M333.2 175.41h1.2" stroke="#b8b0a0" stroke-width="0.45" fill="none"/>
<ellipse cx="283.1" cy="208.3" rx="1.25" ry="1.15" fill="#2a7fe0"/>
<ellipse cx="290" cy="204.8" rx="1.25" ry="1.15" fill="#2a7fe0"/>
<ellipse cx="293.8" cy="202.92" rx="1.25" ry="1.15" fill="#2a7fe0"/>
<ellipse cx="299.2" cy="200.33" rx="1.25" ry="1.15" fill="#2a7fe0"/>
<ellipse cx="303.1" cy="197.44" rx="1.25" ry="1.15" fill="#2a7fe0"/>
<ellipse cx="306.9" cy="194.98" rx="1.25" ry="1.15" fill="#2a7fe0"/>
<ellipse cx="310.8" cy="192.09" rx="1.25" ry="1.15" fill="#2a7fe0"/>
<ellipse cx="314.6" cy="189.14" rx="1.25" ry="1.15" fill="#2a7fe0"/>
<ellipse cx="316.9" cy="187.24" rx="1.25" ry="1.15" fill="#2a7fe0"/>
<ellipse cx="319.2" cy="185.29" rx="1.25" ry="1.15" fill="#2a7fe0"/>
<ellipse cx="322.3" cy="182.61" rx="1.25" ry="1.15" fill="#2a7fe0"/>
<ellipse cx="324.6" cy="180.64" rx="1.25" ry="1.15" fill="#2a7fe0"/>
<ellipse cx="327.7" cy="177.99" rx="1.25" ry="1.15" fill="#2a7fe0"/>
<ellipse cx="330" cy="175.8" rx="1.25" ry="1.15" fill="#2a7fe0"/>
<ellipse cx="332.3" cy="173.55" rx="1.25" ry="1.15" fill="#2a7fe0"/>
<ellipse cx="333.8" cy="172.02" rx="1.25" ry="1.15" fill="#2a7fe0"/>
</svg></body></html>
